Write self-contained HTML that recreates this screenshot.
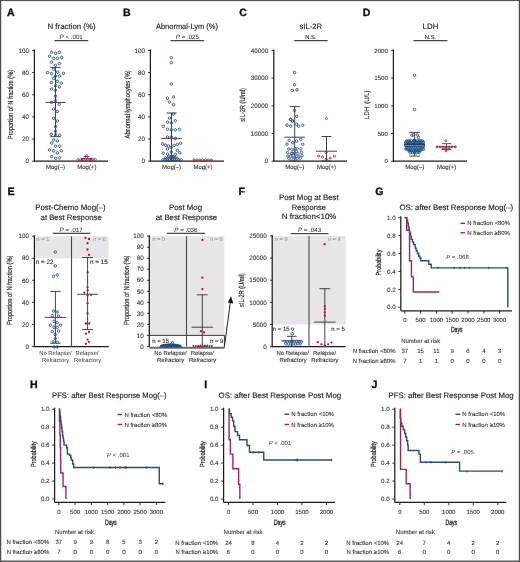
<!DOCTYPE html>
<html><head><meta charset="utf-8"><title>Figure</title>
<style>
html,body{margin:0;padding:0;background:#fff;overflow:hidden;width:520px;height:562px;}
svg{display:block;will-change:transform;}
text{font-family:"Liberation Sans",sans-serif;text-rendering:geometricPrecision;}
</style></head>
<body>
<svg width="520" height="562" viewBox="0 0 520 562">
<rect width="520" height="562" fill="#fff"/>
<rect x="0.00" y="0.00" width="520.00" height="1.10" fill="#555" />
<rect x="0.00" y="0.00" width="1.20" height="562.00" fill="#4a4a4a" />
<rect x="518.80" y="0.00" width="1.20" height="562.00" fill="#4a4a4a" />
<rect x="0.00" y="560.50" width="520.00" height="1.50" fill="#5a5a5a" />
<text x="7.00" y="15.70" font-size="10.6" text-anchor="start" fill="#111" font-weight="bold" font-style="normal" stroke="#111" stroke-width="0.35">A</text>
<text x="71.55" y="28.90" font-size="7.8" text-anchor="middle" fill="#222" font-weight="normal" font-style="normal" stroke="#222" stroke-width="0.14" textLength="48.1" lengthAdjust="spacingAndGlyphs">N fraction (%)</text>
<text x="71.20" y="38.60" font-size="6.2" text-anchor="middle" fill="#222"><tspan font-style="italic">P</tspan> &lt; .001</text>
<line x1="54.30" y1="40.60" x2="88.20" y2="40.60" stroke="#474747" stroke-width="1.3" />
<text transform="translate(10.60,104.50) rotate(-90)" x="0" y="2.59" font-size="7.4" text-anchor="middle" fill="#2a2a2a" stroke="#2a2a2a" stroke-width="0.18" textLength="69.3" lengthAdjust="spacingAndGlyphs">Proportion of N fraction (%)</text>
<line x1="34.40" y1="49.40" x2="34.40" y2="161.80" stroke="#1c1c1c" stroke-width="1.25" />
<line x1="32.10" y1="161.20" x2="34.40" y2="161.20" stroke="#1c1c1c" stroke-width="0.9" />
<text x="28.90" y="163.40" font-size="6.3" text-anchor="end" fill="#333" font-weight="normal" font-style="normal"  stroke="#333" stroke-width="0.1">0</text>
<line x1="32.10" y1="139.04" x2="34.40" y2="139.04" stroke="#1c1c1c" stroke-width="0.9" />
<text x="28.90" y="141.24" font-size="6.3" text-anchor="end" fill="#333" font-weight="normal" font-style="normal"  stroke="#333" stroke-width="0.1">20</text>
<line x1="32.10" y1="116.88" x2="34.40" y2="116.88" stroke="#1c1c1c" stroke-width="0.9" />
<text x="28.90" y="119.08" font-size="6.3" text-anchor="end" fill="#333" font-weight="normal" font-style="normal"  stroke="#333" stroke-width="0.1">40</text>
<line x1="32.10" y1="94.72" x2="34.40" y2="94.72" stroke="#1c1c1c" stroke-width="0.9" />
<text x="28.90" y="96.92" font-size="6.3" text-anchor="end" fill="#333" font-weight="normal" font-style="normal"  stroke="#333" stroke-width="0.1">60</text>
<line x1="32.10" y1="72.56" x2="34.40" y2="72.56" stroke="#1c1c1c" stroke-width="0.9" />
<text x="28.90" y="74.76" font-size="6.3" text-anchor="end" fill="#333" font-weight="normal" font-style="normal"  stroke="#333" stroke-width="0.1">80</text>
<line x1="32.10" y1="50.40" x2="34.40" y2="50.40" stroke="#1c1c1c" stroke-width="0.9" />
<text x="28.90" y="52.60" font-size="6.3" text-anchor="end" fill="#333" font-weight="normal" font-style="normal"  stroke="#333" stroke-width="0.1">100</text>
<line x1="34.40" y1="161.20" x2="108.00" y2="161.20" stroke="#1c1c1c" stroke-width="1.25" />
<text x="55.50" y="169.30" font-size="6" text-anchor="middle" fill="#333" font-weight="normal" font-style="normal"  stroke="#333" stroke-width="0.1">Mog(–)</text>
<text x="86.80" y="169.30" font-size="6" text-anchor="middle" fill="#333" font-weight="normal" font-style="normal"  stroke="#333" stroke-width="0.1">Mog(+)</text>
<line x1="55.50" y1="67.40" x2="55.50" y2="136.70" stroke="#3a3a3a" stroke-width="0.95" />
<line x1="50.30" y1="67.40" x2="60.70" y2="67.40" stroke="#3a3a3a" stroke-width="0.95" />
<line x1="50.30" y1="136.70" x2="60.70" y2="136.70" stroke="#3a3a3a" stroke-width="0.95" />
<line x1="45.25" y1="102.40" x2="65.75" y2="102.40" stroke="#3a3a3a" stroke-width="0.95" />
<line x1="81.00" y1="158.60" x2="92.00" y2="158.60" stroke="#333" stroke-width="0.9" />
<line x1="83.50" y1="156.50" x2="89.50" y2="156.50" stroke="#333" stroke-width="0.8" />
<text x="123.00" y="15.70" font-size="10.6" text-anchor="start" fill="#111" font-weight="bold" font-style="normal" stroke="#111" stroke-width="0.35">B</text>
<text x="186.95" y="28.90" font-size="7.8" text-anchor="middle" fill="#222" font-weight="normal" font-style="normal" stroke="#222" stroke-width="0.14" textLength="61.9" lengthAdjust="spacingAndGlyphs">Abnormal-Lym (%)</text>
<text x="187.40" y="38.60" font-size="6.2" text-anchor="middle" fill="#222"><tspan font-style="italic">P</tspan> = .025</text>
<line x1="170.50" y1="40.60" x2="204.20" y2="40.60" stroke="#474747" stroke-width="1.3" />
<text transform="translate(127.30,104.40) rotate(-90)" x="0" y="2.59" font-size="7.4" text-anchor="middle" fill="#2a2a2a" stroke="#2a2a2a" stroke-width="0.18" textLength="68" lengthAdjust="spacingAndGlyphs">Abnormal lymphocytes (%)</text>
<line x1="150.40" y1="49.40" x2="150.40" y2="161.80" stroke="#1c1c1c" stroke-width="1.25" />
<line x1="148.10" y1="161.20" x2="150.40" y2="161.20" stroke="#1c1c1c" stroke-width="0.9" />
<text x="144.90" y="163.40" font-size="6.3" text-anchor="end" fill="#333" font-weight="normal" font-style="normal"  stroke="#333" stroke-width="0.1">0</text>
<line x1="148.10" y1="139.04" x2="150.40" y2="139.04" stroke="#1c1c1c" stroke-width="0.9" />
<text x="144.90" y="141.24" font-size="6.3" text-anchor="end" fill="#333" font-weight="normal" font-style="normal"  stroke="#333" stroke-width="0.1">20</text>
<line x1="148.10" y1="116.88" x2="150.40" y2="116.88" stroke="#1c1c1c" stroke-width="0.9" />
<text x="144.90" y="119.08" font-size="6.3" text-anchor="end" fill="#333" font-weight="normal" font-style="normal"  stroke="#333" stroke-width="0.1">40</text>
<line x1="148.10" y1="94.72" x2="150.40" y2="94.72" stroke="#1c1c1c" stroke-width="0.9" />
<text x="144.90" y="96.92" font-size="6.3" text-anchor="end" fill="#333" font-weight="normal" font-style="normal"  stroke="#333" stroke-width="0.1">60</text>
<line x1="148.10" y1="72.56" x2="150.40" y2="72.56" stroke="#1c1c1c" stroke-width="0.9" />
<text x="144.90" y="74.76" font-size="6.3" text-anchor="end" fill="#333" font-weight="normal" font-style="normal"  stroke="#333" stroke-width="0.1">80</text>
<line x1="148.10" y1="50.40" x2="150.40" y2="50.40" stroke="#1c1c1c" stroke-width="0.9" />
<text x="144.90" y="52.60" font-size="6.3" text-anchor="end" fill="#333" font-weight="normal" font-style="normal"  stroke="#333" stroke-width="0.1">100</text>
<line x1="150.40" y1="161.20" x2="224.00" y2="161.20" stroke="#1c1c1c" stroke-width="1.25" />
<text x="171.60" y="169.30" font-size="6" text-anchor="middle" fill="#333" font-weight="normal" font-style="normal"  stroke="#333" stroke-width="0.1">Mog(–)</text>
<text x="203.00" y="169.30" font-size="6" text-anchor="middle" fill="#333" font-weight="normal" font-style="normal"  stroke="#333" stroke-width="0.1">Mog(+)</text>
<line x1="171.50" y1="113.00" x2="171.50" y2="161.00" stroke="#3a3a3a" stroke-width="0.95" />
<line x1="166.40" y1="113.00" x2="176.60" y2="113.00" stroke="#3a3a3a" stroke-width="0.95" />
<line x1="166.40" y1="161.00" x2="176.60" y2="161.00" stroke="#3a3a3a" stroke-width="0.95" />
<line x1="161.25" y1="138.40" x2="181.75" y2="138.40" stroke="#3a3a3a" stroke-width="0.95" />
<text x="239.20" y="15.70" font-size="10.6" text-anchor="start" fill="#111" font-weight="bold" font-style="normal" stroke="#111" stroke-width="0.35">C</text>
<text x="310.75" y="28.80" font-size="7.8" text-anchor="middle" fill="#222" font-weight="normal" font-style="normal" stroke="#222" stroke-width="0.14" textLength="22.5" lengthAdjust="spacingAndGlyphs">sIL-2R</text>
<text x="310.80" y="38.60" font-size="5.8" text-anchor="middle" fill="#222" font-weight="normal" font-style="normal"  stroke="#222" stroke-width="0.1">N.S.</text>
<line x1="294.20" y1="40.60" x2="327.70" y2="40.60" stroke="#474747" stroke-width="1.3" />
<text transform="translate(242.70,104.90) rotate(-90)" x="0" y="2.59" font-size="7.4" text-anchor="middle" fill="#2a2a2a" stroke="#2a2a2a" stroke-width="0.18" textLength="33.7" lengthAdjust="spacingAndGlyphs">sIL-2R (U/ml)</text>
<line x1="273.80" y1="49.40" x2="273.80" y2="161.80" stroke="#1c1c1c" stroke-width="1.25" />
<line x1="271.50" y1="161.20" x2="273.80" y2="161.20" stroke="#1c1c1c" stroke-width="0.9" />
<text x="268.30" y="163.40" font-size="6.3" text-anchor="end" fill="#333" font-weight="normal" font-style="normal"  stroke="#333" stroke-width="0.1">0</text>
<line x1="271.50" y1="133.50" x2="273.80" y2="133.50" stroke="#1c1c1c" stroke-width="0.9" />
<text x="268.30" y="135.70" font-size="6.3" text-anchor="end" fill="#333" font-weight="normal" font-style="normal"  stroke="#333" stroke-width="0.1">10000</text>
<line x1="271.50" y1="105.80" x2="273.80" y2="105.80" stroke="#1c1c1c" stroke-width="0.9" />
<text x="268.30" y="108.00" font-size="6.3" text-anchor="end" fill="#333" font-weight="normal" font-style="normal"  stroke="#333" stroke-width="0.1">20000</text>
<line x1="271.50" y1="78.10" x2="273.80" y2="78.10" stroke="#1c1c1c" stroke-width="0.9" />
<text x="268.30" y="80.30" font-size="6.3" text-anchor="end" fill="#333" font-weight="normal" font-style="normal"  stroke="#333" stroke-width="0.1">30000</text>
<line x1="271.50" y1="50.40" x2="273.80" y2="50.40" stroke="#1c1c1c" stroke-width="0.9" />
<text x="268.30" y="52.60" font-size="6.3" text-anchor="end" fill="#333" font-weight="normal" font-style="normal"  stroke="#333" stroke-width="0.1">40000</text>
<line x1="273.80" y1="161.20" x2="347.00" y2="161.20" stroke="#1c1c1c" stroke-width="1.25" />
<text x="294.80" y="169.30" font-size="6" text-anchor="middle" fill="#333" font-weight="normal" font-style="normal"  stroke="#333" stroke-width="0.1">Mog(–)</text>
<text x="326.50" y="169.30" font-size="6" text-anchor="middle" fill="#333" font-weight="normal" font-style="normal"  stroke="#333" stroke-width="0.1">Mog(+)</text>
<line x1="294.70" y1="106.60" x2="294.70" y2="161.00" stroke="#3a3a3a" stroke-width="0.95" />
<line x1="289.60" y1="106.60" x2="299.80" y2="106.60" stroke="#3a3a3a" stroke-width="0.95" />
<line x1="289.60" y1="161.00" x2="299.80" y2="161.00" stroke="#3a3a3a" stroke-width="0.95" />
<line x1="284.45" y1="137.20" x2="304.95" y2="137.20" stroke="#3a3a3a" stroke-width="0.95" />
<line x1="326.50" y1="136.50" x2="326.50" y2="161.00" stroke="#3a3a3a" stroke-width="0.95" />
<line x1="321.50" y1="136.50" x2="331.50" y2="136.50" stroke="#3a3a3a" stroke-width="0.95" />
<line x1="321.50" y1="161.00" x2="331.50" y2="161.00" stroke="#3a3a3a" stroke-width="0.95" />
<line x1="316.00" y1="151.20" x2="337.00" y2="151.20" stroke="#3a3a3a" stroke-width="0.95" />
<text x="362.70" y="15.70" font-size="10.6" text-anchor="start" fill="#111" font-weight="bold" font-style="normal" stroke="#111" stroke-width="0.35">D</text>
<text x="430.50" y="28.80" font-size="7.8" text-anchor="middle" fill="#222" font-weight="normal" font-style="normal" stroke="#222" stroke-width="0.14" textLength="15.8" lengthAdjust="spacingAndGlyphs">LDH</text>
<text x="430.30" y="38.60" font-size="5.8" text-anchor="middle" fill="#222" font-weight="normal" font-style="normal"  stroke="#222" stroke-width="0.1">N.S.</text>
<line x1="413.50" y1="40.60" x2="447.40" y2="40.60" stroke="#474747" stroke-width="1.3" />
<text transform="translate(366.50,104.70) rotate(-90)" x="0" y="2.31" font-size="6.6" text-anchor="middle" fill="#2a2a2a" stroke="#2a2a2a" stroke-width="0.18" textLength="28.4" lengthAdjust="spacingAndGlyphs">LDH&#160;&#160;(U/L)</text>
<line x1="393.40" y1="49.40" x2="393.40" y2="161.80" stroke="#1c1c1c" stroke-width="1.25" />
<line x1="391.10" y1="161.20" x2="393.40" y2="161.20" stroke="#1c1c1c" stroke-width="0.9" />
<text x="387.90" y="163.40" font-size="6.1" text-anchor="end" fill="#333" font-weight="normal" font-style="normal"  stroke="#333" stroke-width="0.1">0</text>
<line x1="391.10" y1="133.50" x2="393.40" y2="133.50" stroke="#1c1c1c" stroke-width="0.9" />
<text x="387.90" y="135.70" font-size="6.1" text-anchor="end" fill="#333" font-weight="normal" font-style="normal"  stroke="#333" stroke-width="0.1">500</text>
<line x1="391.10" y1="105.80" x2="393.40" y2="105.80" stroke="#1c1c1c" stroke-width="0.9" />
<text x="387.90" y="108.00" font-size="6.1" text-anchor="end" fill="#333" font-weight="normal" font-style="normal"  stroke="#333" stroke-width="0.1">1000</text>
<line x1="391.10" y1="78.10" x2="393.40" y2="78.10" stroke="#1c1c1c" stroke-width="0.9" />
<text x="387.90" y="80.30" font-size="6.1" text-anchor="end" fill="#333" font-weight="normal" font-style="normal"  stroke="#333" stroke-width="0.1">1500</text>
<line x1="391.10" y1="50.40" x2="393.40" y2="50.40" stroke="#1c1c1c" stroke-width="0.9" />
<text x="387.90" y="52.60" font-size="6.1" text-anchor="end" fill="#333" font-weight="normal" font-style="normal"  stroke="#333" stroke-width="0.1">2000</text>
<line x1="393.40" y1="161.20" x2="467.00" y2="161.20" stroke="#1c1c1c" stroke-width="1.25" />
<text x="414.80" y="169.30" font-size="6" text-anchor="middle" fill="#333" font-weight="normal" font-style="normal"  stroke="#333" stroke-width="0.1">Mog(–)</text>
<text x="446.60" y="169.30" font-size="6" text-anchor="middle" fill="#333" font-weight="normal" font-style="normal"  stroke="#333" stroke-width="0.1">Mog(+)</text>
<line x1="414.60" y1="132.40" x2="414.60" y2="156.10" stroke="#3a3a3a" stroke-width="0.95" />
<line x1="409.30" y1="132.40" x2="419.90" y2="132.40" stroke="#3a3a3a" stroke-width="0.95" />
<line x1="409.30" y1="156.10" x2="419.90" y2="156.10" stroke="#3a3a3a" stroke-width="0.95" />
<line x1="404.10" y1="144.50" x2="425.10" y2="144.50" stroke="#3a3a3a" stroke-width="0.95" />
<line x1="446.50" y1="143.70" x2="446.50" y2="149.40" stroke="#444" stroke-width="0.9" />
<line x1="441.75" y1="143.70" x2="451.25" y2="143.70" stroke="#444" stroke-width="0.9" />
<line x1="441.75" y1="149.40" x2="451.25" y2="149.40" stroke="#444" stroke-width="0.9" />
<line x1="436.50" y1="146.70" x2="456.50" y2="146.70" stroke="#444" stroke-width="0.9" />
<text x="7.60" y="195.00" font-size="10.6" text-anchor="start" fill="#111" font-weight="bold" font-style="normal" stroke="#111" stroke-width="0.35">E</text>
<text x="70.40" y="209.60" font-size="7.8" text-anchor="middle" fill="#222" font-weight="normal" font-style="normal" stroke="#222" stroke-width="0.14" textLength="70.4" lengthAdjust="spacingAndGlyphs">Post-Chemo Mog(–)</text>
<text x="71.15" y="219.60" font-size="7.8" text-anchor="middle" fill="#222" font-weight="normal" font-style="normal" stroke="#222" stroke-width="0.14" textLength="61.1" lengthAdjust="spacingAndGlyphs">at Best Response</text>
<text x="71.20" y="231.80" font-size="6.2" text-anchor="middle" fill="#222"><tspan font-style="italic">P</tspan> = .017</text>
<line x1="52.80" y1="233.40" x2="90.30" y2="233.40" stroke="#474747" stroke-width="1.3" />
<rect x="35.00" y="236.20" width="73.50" height="22.06" fill="#e7e5e8" />
<text transform="translate(9.90,290.30) rotate(-90)" x="0" y="2.59" font-size="7.4" text-anchor="middle" fill="#2a2a2a" stroke="#2a2a2a" stroke-width="0.18" textLength="69.4" lengthAdjust="spacingAndGlyphs">Proportion of N fraction (%)</text>
<line x1="34.40" y1="235.20" x2="34.40" y2="347.10" stroke="#1c1c1c" stroke-width="1.25" />
<line x1="32.10" y1="346.50" x2="34.40" y2="346.50" stroke="#1c1c1c" stroke-width="0.9" />
<text x="28.90" y="348.70" font-size="6.3" text-anchor="end" fill="#333" font-weight="normal" font-style="normal"  stroke="#333" stroke-width="0.1">0</text>
<line x1="32.10" y1="324.44" x2="34.40" y2="324.44" stroke="#1c1c1c" stroke-width="0.9" />
<text x="28.90" y="326.64" font-size="6.3" text-anchor="end" fill="#333" font-weight="normal" font-style="normal"  stroke="#333" stroke-width="0.1">20</text>
<line x1="32.10" y1="302.38" x2="34.40" y2="302.38" stroke="#1c1c1c" stroke-width="0.9" />
<text x="28.90" y="304.58" font-size="6.3" text-anchor="end" fill="#333" font-weight="normal" font-style="normal"  stroke="#333" stroke-width="0.1">40</text>
<line x1="32.10" y1="280.32" x2="34.40" y2="280.32" stroke="#1c1c1c" stroke-width="0.9" />
<text x="28.90" y="282.52" font-size="6.3" text-anchor="end" fill="#333" font-weight="normal" font-style="normal"  stroke="#333" stroke-width="0.1">60</text>
<line x1="32.10" y1="258.26" x2="34.40" y2="258.26" stroke="#1c1c1c" stroke-width="0.9" />
<text x="28.90" y="260.46" font-size="6.3" text-anchor="end" fill="#333" font-weight="normal" font-style="normal"  stroke="#333" stroke-width="0.1">80</text>
<line x1="32.10" y1="236.20" x2="34.40" y2="236.20" stroke="#1c1c1c" stroke-width="0.9" />
<text x="28.90" y="238.40" font-size="6.3" text-anchor="end" fill="#333" font-weight="normal" font-style="normal"  stroke="#333" stroke-width="0.1">100</text>
<line x1="34.40" y1="346.50" x2="108.70" y2="346.50" stroke="#1c1c1c" stroke-width="1.25" />
<line x1="71.50" y1="236.20" x2="71.50" y2="346.50" stroke="#4a4a4a" stroke-width="1.1" />
<text x="36.30" y="241.00" font-size="5.8" text-anchor="start" fill="#9c9c9c" font-weight="normal" font-style="normal"  stroke="#9c9c9c" stroke-width="0.1">n = 1</text>
<text x="106.00" y="241.00" font-size="5.8" text-anchor="end" fill="#9c9c9c" font-weight="normal" font-style="normal"  stroke="#9c9c9c" stroke-width="0.1">n = 6</text>
<text x="35.80" y="264.00" font-size="6.3" text-anchor="start" fill="#222" font-weight="normal" font-style="normal"  stroke="#222" stroke-width="0.1">n = 22</text>
<text x="107.80" y="264.00" font-size="6.3" text-anchor="end" fill="#222" font-weight="normal" font-style="normal"  stroke="#222" stroke-width="0.1">n = 15</text>
<text x="55.4" y="354.6" font-size="5.9" text-anchor="middle" fill="#333">No Relapse/</text>
<text x="55.6" y="361.6" font-size="5.9" text-anchor="middle" fill="#333">Refractory</text>
<text x="87" y="354.6" font-size="5.9" text-anchor="middle" fill="#333">Relapse/</text>
<text x="87.6" y="361.6" font-size="5.9" text-anchor="middle" fill="#333">Refractory</text>
<line x1="55.40" y1="291.40" x2="55.40" y2="343.20" stroke="#3a3a3a" stroke-width="0.95" />
<line x1="50.25" y1="291.40" x2="60.55" y2="291.40" stroke="#3a3a3a" stroke-width="0.95" />
<line x1="50.25" y1="343.20" x2="60.55" y2="343.20" stroke="#3a3a3a" stroke-width="0.95" />
<line x1="44.65" y1="317.40" x2="66.15" y2="317.40" stroke="#3a3a3a" stroke-width="0.95" />
<line x1="87.60" y1="257.50" x2="87.60" y2="329.50" stroke="#3a3a3a" stroke-width="0.95" />
<line x1="82.20" y1="257.50" x2="93.00" y2="257.50" stroke="#3a3a3a" stroke-width="0.95" />
<line x1="82.20" y1="329.50" x2="93.00" y2="329.50" stroke="#3a3a3a" stroke-width="0.95" />
<line x1="77.10" y1="294.30" x2="98.10" y2="294.30" stroke="#3a3a3a" stroke-width="0.95" />
<text x="185.55" y="209.60" font-size="7.8" text-anchor="middle" fill="#222" font-weight="normal" font-style="normal" stroke="#222" stroke-width="0.14" textLength="32.9" lengthAdjust="spacingAndGlyphs">Post Mog</text>
<text x="186.45" y="219.60" font-size="7.8" text-anchor="middle" fill="#222" font-weight="normal" font-style="normal" stroke="#222" stroke-width="0.14" textLength="61.3" lengthAdjust="spacingAndGlyphs">at Best Response</text>
<text x="185.90" y="231.80" font-size="6.2" text-anchor="middle" fill="#222"><tspan font-style="italic">P</tspan> = .036</text>
<line x1="166.80" y1="233.40" x2="205.00" y2="233.40" stroke="#474747" stroke-width="1.3" />
<rect x="150.00" y="236.20" width="74.40" height="99.18" fill="#e7e5e8" />
<text transform="translate(126.10,290.30) rotate(-90)" x="0" y="2.59" font-size="7.4" text-anchor="middle" fill="#2a2a2a" stroke="#2a2a2a" stroke-width="0.18" textLength="69.4" lengthAdjust="spacingAndGlyphs">Proportion of N fraction (%)</text>
<line x1="149.30" y1="235.20" x2="149.30" y2="347.00" stroke="#1c1c1c" stroke-width="1.25" />
<line x1="147.00" y1="346.40" x2="149.30" y2="346.40" stroke="#1c1c1c" stroke-width="0.9" />
<text x="143.80" y="348.60" font-size="6.3" text-anchor="end" fill="#333" font-weight="normal" font-style="normal"  stroke="#333" stroke-width="0.1">0</text>
<line x1="147.00" y1="335.38" x2="149.30" y2="335.38" stroke="#1c1c1c" stroke-width="0.9" />
<text x="143.80" y="337.58" font-size="6.3" text-anchor="end" fill="#333" font-weight="normal" font-style="normal"  stroke="#333" stroke-width="0.1">10</text>
<line x1="147.00" y1="324.36" x2="149.30" y2="324.36" stroke="#1c1c1c" stroke-width="0.9" />
<text x="143.80" y="326.56" font-size="6.3" text-anchor="end" fill="#333" font-weight="normal" font-style="normal"  stroke="#333" stroke-width="0.1">20</text>
<line x1="147.00" y1="313.34" x2="149.30" y2="313.34" stroke="#1c1c1c" stroke-width="0.9" />
<text x="143.80" y="315.54" font-size="6.3" text-anchor="end" fill="#333" font-weight="normal" font-style="normal"  stroke="#333" stroke-width="0.1">30</text>
<line x1="147.00" y1="302.32" x2="149.30" y2="302.32" stroke="#1c1c1c" stroke-width="0.9" />
<text x="143.80" y="304.52" font-size="6.3" text-anchor="end" fill="#333" font-weight="normal" font-style="normal"  stroke="#333" stroke-width="0.1">40</text>
<line x1="147.00" y1="291.30" x2="149.30" y2="291.30" stroke="#1c1c1c" stroke-width="0.9" />
<text x="143.80" y="293.50" font-size="6.3" text-anchor="end" fill="#333" font-weight="normal" font-style="normal"  stroke="#333" stroke-width="0.1">50</text>
<line x1="147.00" y1="280.28" x2="149.30" y2="280.28" stroke="#1c1c1c" stroke-width="0.9" />
<text x="143.80" y="282.48" font-size="6.3" text-anchor="end" fill="#333" font-weight="normal" font-style="normal"  stroke="#333" stroke-width="0.1">60</text>
<line x1="147.00" y1="269.26" x2="149.30" y2="269.26" stroke="#1c1c1c" stroke-width="0.9" />
<text x="143.80" y="271.46" font-size="6.3" text-anchor="end" fill="#333" font-weight="normal" font-style="normal"  stroke="#333" stroke-width="0.1">70</text>
<line x1="147.00" y1="258.24" x2="149.30" y2="258.24" stroke="#1c1c1c" stroke-width="0.9" />
<text x="143.80" y="260.44" font-size="6.3" text-anchor="end" fill="#333" font-weight="normal" font-style="normal"  stroke="#333" stroke-width="0.1">80</text>
<line x1="147.00" y1="247.22" x2="149.30" y2="247.22" stroke="#1c1c1c" stroke-width="0.9" />
<text x="143.80" y="249.42" font-size="6.3" text-anchor="end" fill="#333" font-weight="normal" font-style="normal"  stroke="#333" stroke-width="0.1">90</text>
<line x1="147.00" y1="236.20" x2="149.30" y2="236.20" stroke="#1c1c1c" stroke-width="0.9" />
<text x="143.80" y="238.40" font-size="6.3" text-anchor="end" fill="#333" font-weight="normal" font-style="normal"  stroke="#333" stroke-width="0.1">100</text>
<line x1="186.50" y1="236.20" x2="186.50" y2="346.40" stroke="#4a4a4a" stroke-width="1.1" />
<line x1="149.30" y1="335.38" x2="224.40" y2="335.38" stroke="#3a3a3a" stroke-width="1.0" />
<line x1="224.40" y1="335.38" x2="224.40" y2="346.40" stroke="#3a3a3a" stroke-width="1.0" />
<line x1="149.30" y1="347.70" x2="224.80" y2="347.70" stroke="#6a6a6a" stroke-width="1.9" />
<text x="152.20" y="241.00" font-size="5.8" text-anchor="start" fill="#9c9c9c" font-weight="normal" font-style="normal"  stroke="#9c9c9c" stroke-width="0.1">n = 0</text>
<text x="222.80" y="241.00" font-size="5.8" text-anchor="end" fill="#9c9c9c" font-weight="normal" font-style="normal"  stroke="#9c9c9c" stroke-width="0.1">n = 6</text>
<text x="152.20" y="342.60" font-size="6" text-anchor="start" fill="#222" font-weight="normal" font-style="normal"  stroke="#222" stroke-width="0.1">n = 15</text>
<text x="223.40" y="342.60" font-size="6" text-anchor="end" fill="#222" font-weight="normal" font-style="normal"  stroke="#222" stroke-width="0.1">n = 9</text>
<text x="170.50" y="354.60" font-size="5.9" text-anchor="middle" fill="#333" font-weight="normal" font-style="normal"  stroke="#333" stroke-width="0.1">No Relapse/</text>
<text x="170.70" y="361.60" font-size="5.9" text-anchor="middle" fill="#333" font-weight="normal" font-style="normal"  stroke="#333" stroke-width="0.1">Refractory</text>
<text x="202.30" y="354.60" font-size="5.9" text-anchor="middle" fill="#333" font-weight="normal" font-style="normal"  stroke="#333" stroke-width="0.1">Relapse/</text>
<text x="202.50" y="361.60" font-size="5.9" text-anchor="middle" fill="#333" font-weight="normal" font-style="normal"  stroke="#333" stroke-width="0.1">Refractory</text>
<line x1="202.30" y1="294.80" x2="202.30" y2="346.40" stroke="#3a3a3a" stroke-width="0.95" />
<line x1="196.90" y1="294.80" x2="207.70" y2="294.80" stroke="#3a3a3a" stroke-width="0.95" />
<line x1="196.90" y1="346.40" x2="207.70" y2="346.40" stroke="#3a3a3a" stroke-width="0.95" />
<line x1="191.50" y1="327.20" x2="213.10" y2="327.20" stroke="#3a3a3a" stroke-width="0.95" />
<line x1="224.40" y1="346.70" x2="230.30" y2="302.50" stroke="#222" stroke-width="1.0" />
<path d="M231,296.2 L233.3,303.4 L227.9,302.6 Z" fill="#111"/>
<text x="238.50" y="195.00" font-size="10.6" text-anchor="start" fill="#111" font-weight="bold" font-style="normal" stroke="#111" stroke-width="0.35">F</text>
<text x="308.85" y="200.00" font-size="7.8" text-anchor="middle" fill="#222" font-weight="normal" font-style="normal" stroke="#222" stroke-width="0.14" textLength="59.7" lengthAdjust="spacingAndGlyphs">Post Mog at Best</text>
<text x="308.85" y="209.70" font-size="7.8" text-anchor="middle" fill="#222" font-weight="normal" font-style="normal" stroke="#222" stroke-width="0.14" textLength="34.1" lengthAdjust="spacingAndGlyphs">Response</text>
<text x="309.10" y="219.40" font-size="7.8" text-anchor="middle" fill="#222" font-weight="normal" font-style="normal" stroke="#222" stroke-width="0.14" textLength="54.6" lengthAdjust="spacingAndGlyphs">N fraction&lt;10%</text>
<text x="309.50" y="231.80" font-size="6.2" text-anchor="middle" fill="#222"><tspan font-style="italic">P</tspan> = .043</text>
<line x1="290.80" y1="233.60" x2="328.50" y2="233.60" stroke="#474747" stroke-width="1.3" />
<rect x="272.60" y="235.90" width="73.20" height="88.64" fill="#e7e5e8" />
<text transform="translate(241.70,290.20) rotate(-90)" x="0" y="2.59" font-size="7.4" text-anchor="middle" fill="#2a2a2a" stroke="#2a2a2a" stroke-width="0.18" textLength="33.5" lengthAdjust="spacingAndGlyphs">sIL-2R (U/ml)</text>
<line x1="272.20" y1="234.90" x2="272.20" y2="347.30" stroke="#1c1c1c" stroke-width="1.25" />
<line x1="269.90" y1="346.70" x2="272.20" y2="346.70" stroke="#1c1c1c" stroke-width="0.9" />
<text x="266.70" y="348.90" font-size="6.3" text-anchor="end" fill="#333" font-weight="normal" font-style="normal"  stroke="#333" stroke-width="0.1">0</text>
<line x1="269.90" y1="324.54" x2="272.20" y2="324.54" stroke="#1c1c1c" stroke-width="0.9" />
<text x="266.70" y="326.74" font-size="6.3" text-anchor="end" fill="#333" font-weight="normal" font-style="normal"  stroke="#333" stroke-width="0.1">5000</text>
<line x1="269.90" y1="302.38" x2="272.20" y2="302.38" stroke="#1c1c1c" stroke-width="0.9" />
<text x="266.70" y="304.58" font-size="6.3" text-anchor="end" fill="#333" font-weight="normal" font-style="normal"  stroke="#333" stroke-width="0.1">10000</text>
<line x1="269.90" y1="280.22" x2="272.20" y2="280.22" stroke="#1c1c1c" stroke-width="0.9" />
<text x="266.70" y="282.42" font-size="6.3" text-anchor="end" fill="#333" font-weight="normal" font-style="normal"  stroke="#333" stroke-width="0.1">15000</text>
<line x1="269.90" y1="258.06" x2="272.20" y2="258.06" stroke="#1c1c1c" stroke-width="0.9" />
<text x="266.70" y="260.26" font-size="6.3" text-anchor="end" fill="#333" font-weight="normal" font-style="normal"  stroke="#333" stroke-width="0.1">20000</text>
<line x1="269.90" y1="235.90" x2="272.20" y2="235.90" stroke="#1c1c1c" stroke-width="0.9" />
<text x="266.70" y="238.10" font-size="6.3" text-anchor="end" fill="#333" font-weight="normal" font-style="normal"  stroke="#333" stroke-width="0.1">25000</text>
<line x1="272.20" y1="346.70" x2="345.80" y2="346.70" stroke="#1c1c1c" stroke-width="1.25" />
<line x1="309.00" y1="235.90" x2="309.00" y2="346.70" stroke="#4a4a4a" stroke-width="1.1" />
<text x="274.60" y="240.80" font-size="5.8" text-anchor="start" fill="#9c9c9c" font-weight="normal" font-style="normal"  stroke="#9c9c9c" stroke-width="0.1">n = 0</text>
<text x="340.80" y="240.80" font-size="5.8" text-anchor="end" fill="#9c9c9c" font-weight="normal" font-style="normal"  stroke="#9c9c9c" stroke-width="0.1">n = 4</text>
<text x="272.80" y="330.60" font-size="6" text-anchor="start" fill="#222" font-weight="normal" font-style="normal"  stroke="#222" stroke-width="0.1">n = 15</text>
<text x="344.80" y="330.60" font-size="6" text-anchor="end" fill="#222" font-weight="normal" font-style="normal"  stroke="#222" stroke-width="0.1">n = 5</text>
<text x="292.80" y="354.60" font-size="5.9" text-anchor="middle" fill="#333" font-weight="normal" font-style="normal"  stroke="#333" stroke-width="0.1">No Relapse/</text>
<text x="293.00" y="361.60" font-size="5.9" text-anchor="middle" fill="#333" font-weight="normal" font-style="normal"  stroke="#333" stroke-width="0.1">Refractory</text>
<text x="324.60" y="354.60" font-size="5.9" text-anchor="middle" fill="#333" font-weight="normal" font-style="normal"  stroke="#333" stroke-width="0.1">Relapse/</text>
<text x="324.80" y="361.60" font-size="5.9" text-anchor="middle" fill="#333" font-weight="normal" font-style="normal"  stroke="#333" stroke-width="0.1">Refractory</text>
<line x1="291.80" y1="336.30" x2="291.80" y2="346.30" stroke="#333" stroke-width="0.95" />
<line x1="287.05" y1="336.30" x2="296.55" y2="336.30" stroke="#333" stroke-width="0.95" />
<line x1="287.05" y1="346.30" x2="296.55" y2="346.30" stroke="#333" stroke-width="0.95" />
<line x1="281.30" y1="340.80" x2="302.30" y2="340.80" stroke="#333" stroke-width="0.95" />
<line x1="324.80" y1="288.70" x2="324.80" y2="346.60" stroke="#3a3a3a" stroke-width="0.95" />
<line x1="319.40" y1="288.70" x2="330.20" y2="288.70" stroke="#3a3a3a" stroke-width="0.95" />
<line x1="319.40" y1="346.60" x2="330.20" y2="346.60" stroke="#3a3a3a" stroke-width="0.95" />
<line x1="314.05" y1="322.10" x2="335.55" y2="322.10" stroke="#3a3a3a" stroke-width="0.95" />
<text x="375.30" y="194.70" font-size="10.6" text-anchor="start" fill="#111" font-weight="bold" font-style="normal" stroke="#111" stroke-width="0.35">G</text>
<line x1="400.80" y1="216.20" x2="400.80" y2="310.80" stroke="#1c1c1c" stroke-width="1.25" />
<line x1="398.30" y1="307.30" x2="400.80" y2="307.30" stroke="#1c1c1c" stroke-width="0.9" />
<text x="395.70" y="309.45" font-size="6.2" text-anchor="end" fill="#333" font-weight="normal" font-style="normal"  stroke="#333" stroke-width="0.1">0.0</text>
<line x1="398.30" y1="289.38" x2="400.80" y2="289.38" stroke="#1c1c1c" stroke-width="0.9" />
<text x="395.70" y="291.53" font-size="6.2" text-anchor="end" fill="#333" font-weight="normal" font-style="normal"  stroke="#333" stroke-width="0.1">0.2</text>
<line x1="398.30" y1="271.46" x2="400.80" y2="271.46" stroke="#1c1c1c" stroke-width="0.9" />
<text x="395.70" y="273.61" font-size="6.2" text-anchor="end" fill="#333" font-weight="normal" font-style="normal"  stroke="#333" stroke-width="0.1">0.4</text>
<line x1="398.30" y1="253.54" x2="400.80" y2="253.54" stroke="#1c1c1c" stroke-width="0.9" />
<text x="395.70" y="255.69" font-size="6.2" text-anchor="end" fill="#333" font-weight="normal" font-style="normal"  stroke="#333" stroke-width="0.1">0.6</text>
<line x1="398.30" y1="235.62" x2="400.80" y2="235.62" stroke="#1c1c1c" stroke-width="0.9" />
<text x="395.70" y="237.77" font-size="6.2" text-anchor="end" fill="#333" font-weight="normal" font-style="normal"  stroke="#333" stroke-width="0.1">0.8</text>
<line x1="398.30" y1="217.70" x2="400.80" y2="217.70" stroke="#1c1c1c" stroke-width="0.9" />
<text x="395.70" y="219.85" font-size="6.2" text-anchor="end" fill="#333" font-weight="normal" font-style="normal"  stroke="#333" stroke-width="0.1">1.0</text>
<line x1="400.80" y1="310.80" x2="512.00" y2="310.80" stroke="#1c1c1c" stroke-width="1.25" />
<line x1="404.80" y1="310.80" x2="404.80" y2="313.60" stroke="#1c1c1c" stroke-width="0.9" />
<text x="404.80" y="322.00" font-size="6" text-anchor="middle" fill="#333" font-weight="normal" font-style="normal"  stroke="#333" stroke-width="0.1">0</text>
<line x1="420.60" y1="310.80" x2="420.60" y2="313.60" stroke="#1c1c1c" stroke-width="0.9" />
<text x="420.60" y="322.00" font-size="6" text-anchor="middle" fill="#333" font-weight="normal" font-style="normal"  stroke="#333" stroke-width="0.1">500</text>
<line x1="436.40" y1="310.80" x2="436.40" y2="313.60" stroke="#1c1c1c" stroke-width="0.9" />
<text x="436.40" y="322.00" font-size="6" text-anchor="middle" fill="#333" font-weight="normal" font-style="normal"  stroke="#333" stroke-width="0.1">1000</text>
<line x1="452.20" y1="310.80" x2="452.20" y2="313.60" stroke="#1c1c1c" stroke-width="0.9" />
<text x="452.20" y="322.00" font-size="6" text-anchor="middle" fill="#333" font-weight="normal" font-style="normal"  stroke="#333" stroke-width="0.1">1500</text>
<line x1="468.00" y1="310.80" x2="468.00" y2="313.60" stroke="#1c1c1c" stroke-width="0.9" />
<text x="468.00" y="322.00" font-size="6" text-anchor="middle" fill="#333" font-weight="normal" font-style="normal"  stroke="#333" stroke-width="0.1">2000</text>
<line x1="483.80" y1="310.80" x2="483.80" y2="313.60" stroke="#1c1c1c" stroke-width="0.9" />
<text x="483.80" y="322.00" font-size="6" text-anchor="middle" fill="#333" font-weight="normal" font-style="normal"  stroke="#333" stroke-width="0.1">2500</text>
<line x1="499.60" y1="310.80" x2="499.60" y2="313.60" stroke="#1c1c1c" stroke-width="0.9" />
<text x="499.60" y="322.00" font-size="6" text-anchor="middle" fill="#333" font-weight="normal" font-style="normal"  stroke="#333" stroke-width="0.1">3000</text>
<text transform="translate(378.90,262.50) rotate(-90)" x="0" y="2.59" font-size="7.4" text-anchor="middle" fill="#2a2a2a" stroke="#2a2a2a" stroke-width="0.18" textLength="25.8" lengthAdjust="spacingAndGlyphs">Probability</text>
<text x="399.40" y="209.60" font-size="7.8" text-anchor="start" fill="#222" font-weight="normal" font-style="normal" stroke="#222" stroke-width="0.14" textLength="113.8" lengthAdjust="spacingAndGlyphs">OS: after Best Response Mog(–)</text>
<path d="M404.80,217.70 H406.70 V220.39 H407.64 V223.08 H408.28 V226.66 H408.91 V230.24 H409.54 V232.93 H410.33 V235.62 H411.12 V239.20 H412.38 V241.89 H413.65 V244.58 H415.23 V248.16 H416.18 V250.85 H417.44 V253.54 H418.70 V256.23 H419.97 V258.02 H420.79 V260.71 H428.82 V264.29 H431.19 V267.88 H507.82 V307.30" fill="none" stroke="#2b4c74" stroke-width="1.4" stroke-linejoin="miter"/>
<line x1="437.98" y1="266.58" x2="437.98" y2="269.18" stroke="#2b4c74" stroke-width="0.9" />
<line x1="454.10" y1="266.58" x2="454.10" y2="269.18" stroke="#2b4c74" stroke-width="0.9" />
<line x1="460.10" y1="266.58" x2="460.10" y2="269.18" stroke="#2b4c74" stroke-width="0.9" />
<line x1="464.84" y1="266.58" x2="464.84" y2="269.18" stroke="#2b4c74" stroke-width="0.9" />
<line x1="469.26" y1="266.58" x2="469.26" y2="269.18" stroke="#2b4c74" stroke-width="0.9" />
<line x1="488.86" y1="266.58" x2="488.86" y2="269.18" stroke="#2b4c74" stroke-width="0.9" />
<line x1="505.92" y1="266.58" x2="505.92" y2="269.18" stroke="#2b4c74" stroke-width="0.9" />
<path d="M404.80,217.70 H406.70 V230.24 H409.54 V260.71 H411.44 V276.84 H413.33 V292.07 H439.24 V292.07" fill="none" stroke="#9e2850" stroke-width="1.4" stroke-linejoin="miter"/>
<line x1="460.40" y1="223.40" x2="465.00" y2="223.40" stroke="#2b4c74" stroke-width="1.4" />
<line x1="460.40" y1="232.80" x2="465.00" y2="232.80" stroke="#9e2850" stroke-width="1.4" />
<text x="467.20" y="225.40" font-size="6" text-anchor="start" fill="#333" font-weight="normal" font-style="normal"  stroke="#333" stroke-width="0.1">N fraction &lt;80%</text>
<text x="467.20" y="234.80" font-size="6" text-anchor="start" fill="#333" font-weight="normal" font-style="normal"  stroke="#333" stroke-width="0.1">N fraction ≥80%</text>
<text x="446.2" y="259" font-size="6" fill="#333"><tspan font-style="italic">P</tspan> = .068</text>
<text x="456.7" y="332.1" font-size="7.8" text-anchor="middle" fill="#222" textLength="11.6" lengthAdjust="spacingAndGlyphs" stroke="#222" stroke-width="0.3">Days</text>
<text x="401.20" y="342.90" font-size="6" text-anchor="start" fill="#333" font-weight="normal" font-style="normal"  stroke="#333" stroke-width="0.1">Number at risk</text>
<text x="395.50" y="352.90" font-size="6" text-anchor="end" fill="#333" font-weight="normal" font-style="normal"  stroke="#333" stroke-width="0.1">N fraction &lt;80%</text>
<text x="395.50" y="362.50" font-size="6" text-anchor="end" fill="#333" font-weight="normal" font-style="normal"  stroke="#333" stroke-width="0.1">N fraction ≥80%</text>
<text x="404.80" y="352.90" font-size="6" text-anchor="middle" fill="#333" font-weight="normal" font-style="normal"  stroke="#333" stroke-width="0.1">37</text>
<text x="420.60" y="352.90" font-size="6" text-anchor="middle" fill="#333" font-weight="normal" font-style="normal"  stroke="#333" stroke-width="0.1">15</text>
<text x="436.40" y="352.90" font-size="6" text-anchor="middle" fill="#333" font-weight="normal" font-style="normal"  stroke="#333" stroke-width="0.1">11</text>
<text x="452.20" y="352.90" font-size="6" text-anchor="middle" fill="#333" font-weight="normal" font-style="normal"  stroke="#333" stroke-width="0.1">9</text>
<text x="468.00" y="352.90" font-size="6" text-anchor="middle" fill="#333" font-weight="normal" font-style="normal"  stroke="#333" stroke-width="0.1">6</text>
<text x="483.80" y="352.90" font-size="6" text-anchor="middle" fill="#333" font-weight="normal" font-style="normal"  stroke="#333" stroke-width="0.1">4</text>
<text x="499.60" y="352.90" font-size="6" text-anchor="middle" fill="#333" font-weight="normal" font-style="normal"  stroke="#333" stroke-width="0.1">3</text>
<text x="404.80" y="362.50" font-size="6" text-anchor="middle" fill="#333" font-weight="normal" font-style="normal"  stroke="#333" stroke-width="0.1">7</text>
<text x="420.60" y="362.50" font-size="6" text-anchor="middle" fill="#333" font-weight="normal" font-style="normal"  stroke="#333" stroke-width="0.1">1</text>
<text x="436.40" y="362.50" font-size="6" text-anchor="middle" fill="#333" font-weight="normal" font-style="normal"  stroke="#333" stroke-width="0.1">1</text>
<text x="452.20" y="362.50" font-size="6" text-anchor="middle" fill="#333" font-weight="normal" font-style="normal"  stroke="#333" stroke-width="0.1">0</text>
<text x="468.00" y="362.50" font-size="6" text-anchor="middle" fill="#333" font-weight="normal" font-style="normal"  stroke="#333" stroke-width="0.1">0</text>
<text x="483.80" y="362.50" font-size="6" text-anchor="middle" fill="#333" font-weight="normal" font-style="normal"  stroke="#333" stroke-width="0.1">0</text>
<text x="499.60" y="362.50" font-size="6" text-anchor="middle" fill="#333" font-weight="normal" font-style="normal"  stroke="#333" stroke-width="0.1">0</text>
<text x="30.00" y="387.60" font-size="10.6" text-anchor="start" fill="#111" font-weight="bold" font-style="normal" stroke="#111" stroke-width="0.35">H</text>
<line x1="54.60" y1="407.70" x2="54.60" y2="502.40" stroke="#1c1c1c" stroke-width="1.25" />
<line x1="52.10" y1="499.00" x2="54.60" y2="499.00" stroke="#1c1c1c" stroke-width="0.9" />
<text x="49.50" y="501.15" font-size="6.2" text-anchor="end" fill="#333" font-weight="normal" font-style="normal"  stroke="#333" stroke-width="0.1">0.0</text>
<line x1="52.10" y1="481.04" x2="54.60" y2="481.04" stroke="#1c1c1c" stroke-width="0.9" />
<text x="49.50" y="483.19" font-size="6.2" text-anchor="end" fill="#333" font-weight="normal" font-style="normal"  stroke="#333" stroke-width="0.1">0.2</text>
<line x1="52.10" y1="463.08" x2="54.60" y2="463.08" stroke="#1c1c1c" stroke-width="0.9" />
<text x="49.50" y="465.23" font-size="6.2" text-anchor="end" fill="#333" font-weight="normal" font-style="normal"  stroke="#333" stroke-width="0.1">0.4</text>
<line x1="52.10" y1="445.12" x2="54.60" y2="445.12" stroke="#1c1c1c" stroke-width="0.9" />
<text x="49.50" y="447.27" font-size="6.2" text-anchor="end" fill="#333" font-weight="normal" font-style="normal"  stroke="#333" stroke-width="0.1">0.6</text>
<line x1="52.10" y1="427.16" x2="54.60" y2="427.16" stroke="#1c1c1c" stroke-width="0.9" />
<text x="49.50" y="429.31" font-size="6.2" text-anchor="end" fill="#333" font-weight="normal" font-style="normal"  stroke="#333" stroke-width="0.1">0.8</text>
<line x1="52.10" y1="409.20" x2="54.60" y2="409.20" stroke="#1c1c1c" stroke-width="0.9" />
<text x="49.50" y="411.35" font-size="6.2" text-anchor="end" fill="#333" font-weight="normal" font-style="normal"  stroke="#333" stroke-width="0.1">1.0</text>
<line x1="54.60" y1="502.40" x2="165.40" y2="502.40" stroke="#1c1c1c" stroke-width="1.25" />
<line x1="58.80" y1="502.40" x2="58.80" y2="505.20" stroke="#1c1c1c" stroke-width="0.9" />
<text x="58.80" y="513.60" font-size="6" text-anchor="middle" fill="#333" font-weight="normal" font-style="normal"  stroke="#333" stroke-width="0.1">0</text>
<line x1="75.06" y1="502.40" x2="75.06" y2="505.20" stroke="#1c1c1c" stroke-width="0.9" />
<text x="75.06" y="513.60" font-size="6" text-anchor="middle" fill="#333" font-weight="normal" font-style="normal"  stroke="#333" stroke-width="0.1">500</text>
<line x1="91.32" y1="502.40" x2="91.32" y2="505.20" stroke="#1c1c1c" stroke-width="0.9" />
<text x="91.32" y="513.60" font-size="6" text-anchor="middle" fill="#333" font-weight="normal" font-style="normal"  stroke="#333" stroke-width="0.1">1000</text>
<line x1="107.58" y1="502.40" x2="107.58" y2="505.20" stroke="#1c1c1c" stroke-width="0.9" />
<text x="107.58" y="513.60" font-size="6" text-anchor="middle" fill="#333" font-weight="normal" font-style="normal"  stroke="#333" stroke-width="0.1">1500</text>
<line x1="123.84" y1="502.40" x2="123.84" y2="505.20" stroke="#1c1c1c" stroke-width="0.9" />
<text x="123.84" y="513.60" font-size="6" text-anchor="middle" fill="#333" font-weight="normal" font-style="normal"  stroke="#333" stroke-width="0.1">2000</text>
<line x1="140.10" y1="502.40" x2="140.10" y2="505.20" stroke="#1c1c1c" stroke-width="0.9" />
<text x="140.10" y="513.60" font-size="6" text-anchor="middle" fill="#333" font-weight="normal" font-style="normal"  stroke="#333" stroke-width="0.1">2500</text>
<line x1="156.36" y1="502.40" x2="156.36" y2="505.20" stroke="#1c1c1c" stroke-width="0.9" />
<text x="156.36" y="513.60" font-size="6" text-anchor="middle" fill="#333" font-weight="normal" font-style="normal"  stroke="#333" stroke-width="0.1">3000</text>
<text transform="translate(33.90,454.10) rotate(-90)" x="0" y="2.59" font-size="7.4" text-anchor="middle" fill="#2a2a2a" stroke="#2a2a2a" stroke-width="0.18" textLength="25.8" lengthAdjust="spacingAndGlyphs">Probability</text>
<text x="52.10" y="398.10" font-size="7.8" text-anchor="start" fill="#222" font-weight="normal" font-style="normal" stroke="#222" stroke-width="0.14" textLength="114.4" lengthAdjust="spacingAndGlyphs">PFS: after Best Response Mog(–)</text>
<path d="M58.80,409.20 H59.61 V411.89 H60.10 V416.38 H60.59 V420.87 H61.08 V424.47 H61.53 V428.06 H62.05 V431.65 H62.54 V435.24 H63.03 V437.94 H63.52 V441.08 H64.07 V445.12 H66.60 V447.81 H67.39 V454.10 H69.60 V455.45 H70.80 V457.69 H71.39 V459.94 H72.69 V463.98 H73.69 V467.57 H159.25 V483.73 H162.99 V483.73" fill="none" stroke="#2b4c74" stroke-width="1.4" stroke-linejoin="miter"/>
<line x1="93.76" y1="466.27" x2="93.76" y2="468.87" stroke="#2b4c74" stroke-width="0.9" />
<line x1="110.02" y1="466.27" x2="110.02" y2="468.87" stroke="#2b4c74" stroke-width="0.9" />
<line x1="115.51" y1="466.27" x2="115.51" y2="468.87" stroke="#2b4c74" stroke-width="0.9" />
<line x1="120.00" y1="466.27" x2="120.00" y2="468.87" stroke="#2b4c74" stroke-width="0.9" />
<line x1="125.01" y1="466.27" x2="125.01" y2="468.87" stroke="#2b4c74" stroke-width="0.9" />
<line x1="126.25" y1="466.27" x2="126.25" y2="468.87" stroke="#2b4c74" stroke-width="0.9" />
<line x1="146.25" y1="466.27" x2="146.25" y2="468.87" stroke="#2b4c74" stroke-width="0.9" />
<line x1="162.99" y1="482.43" x2="162.99" y2="485.03" stroke="#2b4c74" stroke-width="0.9" />
<path d="M58.80,409.20 H59.45 V421.77 H59.94 V435.24 H60.26 V447.81 H60.59 V460.39 H60.75 V472.96 H63.03 V486.43 H65.95 V499.00" fill="none" stroke="#9e2850" stroke-width="1.4" stroke-linejoin="miter"/>
<line x1="117.60" y1="414.50" x2="122.20" y2="414.50" stroke="#2b4c74" stroke-width="1.4" />
<line x1="117.60" y1="424.50" x2="122.20" y2="424.50" stroke="#9e2850" stroke-width="1.4" />
<text x="124.40" y="416.50" font-size="6" text-anchor="start" fill="#333" font-weight="normal" font-style="normal"  stroke="#333" stroke-width="0.1">N fraction &lt;80%</text>
<text x="124.40" y="426.50" font-size="6" text-anchor="start" fill="#333" font-weight="normal" font-style="normal"  stroke="#333" stroke-width="0.1">N fraction ≥80%</text>
<text x="107" y="457" font-size="6" fill="#333"><tspan font-style="italic">P</tspan> &lt; .001</text>
<text x="110.8" y="524.6" font-size="7.8" text-anchor="middle" fill="#222" textLength="11.6" lengthAdjust="spacingAndGlyphs" stroke="#222" stroke-width="0.3">Days</text>
<text x="55.00" y="534.00" font-size="6" text-anchor="start" fill="#333" font-weight="normal" font-style="normal"  stroke="#333" stroke-width="0.1">Number at risk</text>
<text x="49.30" y="544.00" font-size="6" text-anchor="end" fill="#333" font-weight="normal" font-style="normal"  stroke="#333" stroke-width="0.1">N fraction &lt;80%</text>
<text x="49.30" y="553.80" font-size="6" text-anchor="end" fill="#333" font-weight="normal" font-style="normal"  stroke="#333" stroke-width="0.1">N fraction ≥80%</text>
<text x="58.80" y="544.00" font-size="6" text-anchor="middle" fill="#333" font-weight="normal" font-style="normal"  stroke="#333" stroke-width="0.1">37</text>
<text x="75.06" y="544.00" font-size="6" text-anchor="middle" fill="#333" font-weight="normal" font-style="normal"  stroke="#333" stroke-width="0.1">9</text>
<text x="91.32" y="544.00" font-size="6" text-anchor="middle" fill="#333" font-weight="normal" font-style="normal"  stroke="#333" stroke-width="0.1">9</text>
<text x="107.58" y="544.00" font-size="6" text-anchor="middle" fill="#333" font-weight="normal" font-style="normal"  stroke="#333" stroke-width="0.1">8</text>
<text x="123.84" y="544.00" font-size="6" text-anchor="middle" fill="#333" font-weight="normal" font-style="normal"  stroke="#333" stroke-width="0.1">5</text>
<text x="140.10" y="544.00" font-size="6" text-anchor="middle" fill="#333" font-weight="normal" font-style="normal"  stroke="#333" stroke-width="0.1">3</text>
<text x="156.36" y="544.00" font-size="6" text-anchor="middle" fill="#333" font-weight="normal" font-style="normal"  stroke="#333" stroke-width="0.1">2</text>
<text x="58.80" y="553.80" font-size="6" text-anchor="middle" fill="#333" font-weight="normal" font-style="normal"  stroke="#333" stroke-width="0.1">7</text>
<text x="75.06" y="553.80" font-size="6" text-anchor="middle" fill="#333" font-weight="normal" font-style="normal"  stroke="#333" stroke-width="0.1">0</text>
<text x="91.32" y="553.80" font-size="6" text-anchor="middle" fill="#333" font-weight="normal" font-style="normal"  stroke="#333" stroke-width="0.1">0</text>
<text x="107.58" y="553.80" font-size="6" text-anchor="middle" fill="#333" font-weight="normal" font-style="normal"  stroke="#333" stroke-width="0.1">0</text>
<text x="123.84" y="553.80" font-size="6" text-anchor="middle" fill="#333" font-weight="normal" font-style="normal"  stroke="#333" stroke-width="0.1">0</text>
<text x="140.10" y="553.80" font-size="6" text-anchor="middle" fill="#333" font-weight="normal" font-style="normal"  stroke="#333" stroke-width="0.1">0</text>
<text x="156.36" y="553.80" font-size="6" text-anchor="middle" fill="#333" font-weight="normal" font-style="normal"  stroke="#333" stroke-width="0.1">0</text>
<text x="204.20" y="387.60" font-size="10.6" text-anchor="start" fill="#111" font-weight="bold" font-style="normal" stroke="#111" stroke-width="0.35">I</text>
<line x1="223.60" y1="407.70" x2="223.60" y2="502.40" stroke="#1c1c1c" stroke-width="1.25" />
<line x1="221.10" y1="499.00" x2="223.60" y2="499.00" stroke="#1c1c1c" stroke-width="0.9" />
<text x="218.50" y="501.15" font-size="6.2" text-anchor="end" fill="#333" font-weight="normal" font-style="normal"  stroke="#333" stroke-width="0.1">0.0</text>
<line x1="221.10" y1="481.04" x2="223.60" y2="481.04" stroke="#1c1c1c" stroke-width="0.9" />
<text x="218.50" y="483.19" font-size="6.2" text-anchor="end" fill="#333" font-weight="normal" font-style="normal"  stroke="#333" stroke-width="0.1">0.2</text>
<line x1="221.10" y1="463.08" x2="223.60" y2="463.08" stroke="#1c1c1c" stroke-width="0.9" />
<text x="218.50" y="465.23" font-size="6.2" text-anchor="end" fill="#333" font-weight="normal" font-style="normal"  stroke="#333" stroke-width="0.1">0.4</text>
<line x1="221.10" y1="445.12" x2="223.60" y2="445.12" stroke="#1c1c1c" stroke-width="0.9" />
<text x="218.50" y="447.27" font-size="6.2" text-anchor="end" fill="#333" font-weight="normal" font-style="normal"  stroke="#333" stroke-width="0.1">0.6</text>
<line x1="221.10" y1="427.16" x2="223.60" y2="427.16" stroke="#1c1c1c" stroke-width="0.9" />
<text x="218.50" y="429.31" font-size="6.2" text-anchor="end" fill="#333" font-weight="normal" font-style="normal"  stroke="#333" stroke-width="0.1">0.8</text>
<line x1="221.10" y1="409.20" x2="223.60" y2="409.20" stroke="#1c1c1c" stroke-width="0.9" />
<text x="218.50" y="411.35" font-size="6.2" text-anchor="end" fill="#333" font-weight="normal" font-style="normal"  stroke="#333" stroke-width="0.1">1.0</text>
<line x1="223.60" y1="502.40" x2="335.00" y2="502.40" stroke="#1c1c1c" stroke-width="1.25" />
<line x1="228.60" y1="502.40" x2="228.60" y2="505.20" stroke="#1c1c1c" stroke-width="0.9" />
<text x="228.60" y="513.60" font-size="6" text-anchor="middle" fill="#333" font-weight="normal" font-style="normal"  stroke="#333" stroke-width="0.1">0</text>
<line x1="253.05" y1="502.40" x2="253.05" y2="505.20" stroke="#1c1c1c" stroke-width="0.9" />
<text x="253.05" y="513.60" font-size="6" text-anchor="middle" fill="#333" font-weight="normal" font-style="normal"  stroke="#333" stroke-width="0.1">500</text>
<line x1="277.50" y1="502.40" x2="277.50" y2="505.20" stroke="#1c1c1c" stroke-width="0.9" />
<text x="277.50" y="513.60" font-size="6" text-anchor="middle" fill="#333" font-weight="normal" font-style="normal"  stroke="#333" stroke-width="0.1">1000</text>
<line x1="301.95" y1="502.40" x2="301.95" y2="505.20" stroke="#1c1c1c" stroke-width="0.9" />
<text x="301.95" y="513.60" font-size="6" text-anchor="middle" fill="#333" font-weight="normal" font-style="normal"  stroke="#333" stroke-width="0.1">1500</text>
<line x1="326.40" y1="502.40" x2="326.40" y2="505.20" stroke="#1c1c1c" stroke-width="0.9" />
<text x="326.40" y="513.60" font-size="6" text-anchor="middle" fill="#333" font-weight="normal" font-style="normal"  stroke="#333" stroke-width="0.1">2000</text>
<text transform="translate(202.50,454.10) rotate(-90)" x="0" y="2.59" font-size="7.4" text-anchor="middle" fill="#2a2a2a" stroke="#2a2a2a" stroke-width="0.18" textLength="25.8" lengthAdjust="spacingAndGlyphs">Probability</text>
<text x="218.60" y="398.10" font-size="7.8" text-anchor="start" fill="#222" font-weight="normal" font-style="normal" stroke="#222" stroke-width="0.14" textLength="122.6" lengthAdjust="spacingAndGlyphs">OS: after Best Response Post Mog</text>
<path d="M228.60,409.20 H229.48 V413.69 H231.24 V417.28 H232.51 V420.87 H233.73 V426.26 H235.01 V431.65 H237.50 V435.24 H239.50 V439.73 H246.99 V445.57 H249.48 V452.30 H263.76 V460.03 H331.78 V460.03" fill="none" stroke="#2b4c74" stroke-width="1.4" stroke-linejoin="miter"/>
<line x1="253.73" y1="451.00" x2="253.73" y2="453.60" stroke="#2b4c74" stroke-width="0.9" />
<line x1="258.77" y1="451.00" x2="258.77" y2="453.60" stroke="#2b4c74" stroke-width="0.9" />
<line x1="296.23" y1="458.73" x2="296.23" y2="461.33" stroke="#2b4c74" stroke-width="0.9" />
<line x1="297.50" y1="458.73" x2="297.50" y2="461.33" stroke="#2b4c74" stroke-width="0.9" />
<line x1="331.78" y1="458.73" x2="331.78" y2="461.33" stroke="#2b4c74" stroke-width="0.9" />
<path d="M228.60,409.20 H229.09 V439.73 H230.36 V454.10 H232.90 V468.74 H238.62 V484.18 H239.85 V499.00" fill="none" stroke="#9e2850" stroke-width="1.4" stroke-linejoin="miter"/>
<line x1="284.50" y1="414.30" x2="289.10" y2="414.30" stroke="#2b4c74" stroke-width="1.4" />
<line x1="284.50" y1="424.50" x2="289.10" y2="424.50" stroke="#9e2850" stroke-width="1.4" />
<text x="291.30" y="416.30" font-size="6" text-anchor="start" fill="#333" font-weight="normal" font-style="normal"  stroke="#333" stroke-width="0.1">N fraction &lt;10%</text>
<text x="291.30" y="426.50" font-size="6" text-anchor="start" fill="#333" font-weight="normal" font-style="normal"  stroke="#333" stroke-width="0.1">N fraction ≥10%</text>
<text x="268.7" y="444.6" font-size="6" fill="#333"><tspan font-style="italic">P</tspan> &lt; .001</text>
<text x="279.7" y="524.6" font-size="7.8" text-anchor="middle" fill="#222" textLength="11.6" lengthAdjust="spacingAndGlyphs" stroke="#222" stroke-width="0.3">Days</text>
<text x="223.50" y="534.00" font-size="6" text-anchor="start" fill="#333" font-weight="normal" font-style="normal"  stroke="#333" stroke-width="0.1">Number at risk</text>
<text x="218.20" y="544.50" font-size="6" text-anchor="end" fill="#333" font-weight="normal" font-style="normal"  stroke="#333" stroke-width="0.1">N fraction &lt;10%</text>
<text x="218.20" y="553.80" font-size="6" text-anchor="end" fill="#333" font-weight="normal" font-style="normal"  stroke="#333" stroke-width="0.1">N fraction ≥10%</text>
<text x="228.50" y="544.50" font-size="6" text-anchor="middle" fill="#333" font-weight="normal" font-style="normal"  stroke="#333" stroke-width="0.1">24</text>
<text x="252.95" y="544.50" font-size="6" text-anchor="middle" fill="#333" font-weight="normal" font-style="normal"  stroke="#333" stroke-width="0.1">8</text>
<text x="277.40" y="544.50" font-size="6" text-anchor="middle" fill="#333" font-weight="normal" font-style="normal"  stroke="#333" stroke-width="0.1">4</text>
<text x="301.85" y="544.50" font-size="6" text-anchor="middle" fill="#333" font-weight="normal" font-style="normal"  stroke="#333" stroke-width="0.1">2</text>
<text x="326.30" y="544.50" font-size="6" text-anchor="middle" fill="#333" font-weight="normal" font-style="normal"  stroke="#333" stroke-width="0.1">2</text>
<text x="228.50" y="553.80" font-size="6" text-anchor="middle" fill="#333" font-weight="normal" font-style="normal"  stroke="#333" stroke-width="0.1">6</text>
<text x="252.95" y="553.80" font-size="6" text-anchor="middle" fill="#333" font-weight="normal" font-style="normal"  stroke="#333" stroke-width="0.1">0</text>
<text x="277.40" y="553.80" font-size="6" text-anchor="middle" fill="#333" font-weight="normal" font-style="normal"  stroke="#333" stroke-width="0.1">0</text>
<text x="301.85" y="553.80" font-size="6" text-anchor="middle" fill="#333" font-weight="normal" font-style="normal"  stroke="#333" stroke-width="0.1">0</text>
<text x="326.30" y="553.80" font-size="6" text-anchor="middle" fill="#333" font-weight="normal" font-style="normal"  stroke="#333" stroke-width="0.1">0</text>
<text x="371.50" y="387.60" font-size="10.6" text-anchor="start" fill="#111" font-weight="bold" font-style="normal" stroke="#111" stroke-width="0.35">J</text>
<line x1="394.80" y1="407.70" x2="394.80" y2="502.40" stroke="#1c1c1c" stroke-width="1.25" />
<line x1="392.30" y1="499.00" x2="394.80" y2="499.00" stroke="#1c1c1c" stroke-width="0.9" />
<text x="389.70" y="501.15" font-size="6.2" text-anchor="end" fill="#333" font-weight="normal" font-style="normal"  stroke="#333" stroke-width="0.1">0.0</text>
<line x1="392.30" y1="481.04" x2="394.80" y2="481.04" stroke="#1c1c1c" stroke-width="0.9" />
<text x="389.70" y="483.19" font-size="6.2" text-anchor="end" fill="#333" font-weight="normal" font-style="normal"  stroke="#333" stroke-width="0.1">0.2</text>
<line x1="392.30" y1="463.08" x2="394.80" y2="463.08" stroke="#1c1c1c" stroke-width="0.9" />
<text x="389.70" y="465.23" font-size="6.2" text-anchor="end" fill="#333" font-weight="normal" font-style="normal"  stroke="#333" stroke-width="0.1">0.4</text>
<line x1="392.30" y1="445.12" x2="394.80" y2="445.12" stroke="#1c1c1c" stroke-width="0.9" />
<text x="389.70" y="447.27" font-size="6.2" text-anchor="end" fill="#333" font-weight="normal" font-style="normal"  stroke="#333" stroke-width="0.1">0.6</text>
<line x1="392.30" y1="427.16" x2="394.80" y2="427.16" stroke="#1c1c1c" stroke-width="0.9" />
<text x="389.70" y="429.31" font-size="6.2" text-anchor="end" fill="#333" font-weight="normal" font-style="normal"  stroke="#333" stroke-width="0.1">0.8</text>
<line x1="392.30" y1="409.20" x2="394.80" y2="409.20" stroke="#1c1c1c" stroke-width="0.9" />
<text x="389.70" y="411.35" font-size="6.2" text-anchor="end" fill="#333" font-weight="normal" font-style="normal"  stroke="#333" stroke-width="0.1">1.0</text>
<line x1="394.80" y1="502.40" x2="506.30" y2="502.40" stroke="#1c1c1c" stroke-width="1.25" />
<line x1="399.80" y1="502.40" x2="399.80" y2="505.20" stroke="#1c1c1c" stroke-width="0.9" />
<text x="399.80" y="513.60" font-size="6" text-anchor="middle" fill="#333" font-weight="normal" font-style="normal"  stroke="#333" stroke-width="0.1">0</text>
<line x1="424.30" y1="502.40" x2="424.30" y2="505.20" stroke="#1c1c1c" stroke-width="0.9" />
<text x="424.30" y="513.60" font-size="6" text-anchor="middle" fill="#333" font-weight="normal" font-style="normal"  stroke="#333" stroke-width="0.1">500</text>
<line x1="448.80" y1="502.40" x2="448.80" y2="505.20" stroke="#1c1c1c" stroke-width="0.9" />
<text x="448.80" y="513.60" font-size="6" text-anchor="middle" fill="#333" font-weight="normal" font-style="normal"  stroke="#333" stroke-width="0.1">1000</text>
<line x1="473.30" y1="502.40" x2="473.30" y2="505.20" stroke="#1c1c1c" stroke-width="0.9" />
<text x="473.30" y="513.60" font-size="6" text-anchor="middle" fill="#333" font-weight="normal" font-style="normal"  stroke="#333" stroke-width="0.1">1500</text>
<line x1="497.80" y1="502.40" x2="497.80" y2="505.20" stroke="#1c1c1c" stroke-width="0.9" />
<text x="497.80" y="513.60" font-size="6" text-anchor="middle" fill="#333" font-weight="normal" font-style="normal"  stroke="#333" stroke-width="0.1">2000</text>
<text transform="translate(373.80,454.10) rotate(-90)" x="0" y="2.59" font-size="7.4" text-anchor="middle" fill="#2a2a2a" stroke="#2a2a2a" stroke-width="0.18" textLength="25.8" lengthAdjust="spacingAndGlyphs">Probability</text>
<text x="388.60" y="398.10" font-size="7.8" text-anchor="start" fill="#222" font-weight="normal" font-style="normal" stroke="#222" stroke-width="0.14" textLength="125.1" lengthAdjust="spacingAndGlyphs">PFS: after Best Response Post Mog</text>
<path d="M399.80,409.20 H400.29 V418.18 H400.78 V422.67 H401.76 V426.26 H403.23 V429.85 H404.70 V433.45 H405.68 V437.04 H406.66 V440.63 H407.64 V445.12 H408.13 V450.51 H418.91 V454.10 H420.38 V462.18 H459.58 V471.16 H502.21 V471.16" fill="none" stroke="#2b4c74" stroke-width="1.4" stroke-linejoin="miter"/>
<line x1="426.26" y1="460.88" x2="426.26" y2="463.48" stroke="#2b4c74" stroke-width="0.9" />
<line x1="431.16" y1="460.88" x2="431.16" y2="463.48" stroke="#2b4c74" stroke-width="0.9" />
<line x1="445.86" y1="460.88" x2="445.86" y2="463.48" stroke="#2b4c74" stroke-width="0.9" />
<line x1="466.93" y1="469.86" x2="466.93" y2="472.46" stroke="#2b4c74" stroke-width="0.9" />
<line x1="502.21" y1="469.86" x2="502.21" y2="472.46" stroke="#2b4c74" stroke-width="0.9" />
<path d="M399.80,409.20 H400.54 V469.37 H406.17 V483.73 H410.09 V499.00" fill="none" stroke="#9e2850" stroke-width="1.4" stroke-linejoin="miter"/>
<line x1="455.50" y1="414.30" x2="460.10" y2="414.30" stroke="#2b4c74" stroke-width="1.4" />
<line x1="455.50" y1="424.50" x2="460.10" y2="424.50" stroke="#9e2850" stroke-width="1.4" />
<text x="462.30" y="416.30" font-size="6" text-anchor="start" fill="#333" font-weight="normal" font-style="normal"  stroke="#333" stroke-width="0.1">N fraction &lt;10%</text>
<text x="462.30" y="426.50" font-size="6" text-anchor="start" fill="#333" font-weight="normal" font-style="normal"  stroke="#333" stroke-width="0.1">N fraction ≥10%</text>
<text x="451.3" y="454" font-size="6" fill="#333"><tspan font-style="italic">P</tspan> = .005</text>
<text x="451.3" y="524.6" font-size="7.8" text-anchor="middle" fill="#222" textLength="11.6" lengthAdjust="spacingAndGlyphs" stroke="#222" stroke-width="0.3">Days</text>
<text x="395.80" y="534.00" font-size="6" text-anchor="start" fill="#333" font-weight="normal" font-style="normal"  stroke="#333" stroke-width="0.1">Number at risk</text>
<text x="389.20" y="544.50" font-size="6" text-anchor="end" fill="#333" font-weight="normal" font-style="normal"  stroke="#333" stroke-width="0.1">N fraction &lt;10%</text>
<text x="389.20" y="553.80" font-size="6" text-anchor="end" fill="#333" font-weight="normal" font-style="normal"  stroke="#333" stroke-width="0.1">N fraction ≥10%</text>
<text x="399.70" y="544.50" font-size="6" text-anchor="middle" fill="#333" font-weight="normal" font-style="normal"  stroke="#333" stroke-width="0.1">24</text>
<text x="424.20" y="544.50" font-size="6" text-anchor="middle" fill="#333" font-weight="normal" font-style="normal"  stroke="#333" stroke-width="0.1">7</text>
<text x="448.70" y="544.50" font-size="6" text-anchor="middle" fill="#333" font-weight="normal" font-style="normal"  stroke="#333" stroke-width="0.1">4</text>
<text x="473.20" y="544.50" font-size="6" text-anchor="middle" fill="#333" font-weight="normal" font-style="normal"  stroke="#333" stroke-width="0.1">2</text>
<text x="497.70" y="544.50" font-size="6" text-anchor="middle" fill="#333" font-weight="normal" font-style="normal"  stroke="#333" stroke-width="0.1">2</text>
<text x="399.70" y="553.80" font-size="6" text-anchor="middle" fill="#333" font-weight="normal" font-style="normal"  stroke="#333" stroke-width="0.1">6</text>
<text x="424.20" y="553.80" font-size="6" text-anchor="middle" fill="#333" font-weight="normal" font-style="normal"  stroke="#333" stroke-width="0.1">0</text>
<text x="448.70" y="553.80" font-size="6" text-anchor="middle" fill="#333" font-weight="normal" font-style="normal"  stroke="#333" stroke-width="0.1">0</text>
<text x="473.20" y="553.80" font-size="6" text-anchor="middle" fill="#333" font-weight="normal" font-style="normal"  stroke="#333" stroke-width="0.1">0</text>
<text x="497.70" y="553.80" font-size="6" text-anchor="middle" fill="#333" font-weight="normal" font-style="normal"  stroke="#333" stroke-width="0.1">0</text>
<circle cx="51.50" cy="52.30" r="1.25" fill="none" stroke="#2e5079" stroke-width="0.9"/>
<circle cx="55.50" cy="53.30" r="1.25" fill="none" stroke="#2e5079" stroke-width="0.9"/>
<circle cx="59.40" cy="52.30" r="1.25" fill="none" stroke="#2e5079" stroke-width="0.9"/>
<circle cx="49.60" cy="56.20" r="1.25" fill="none" stroke="#2e5079" stroke-width="0.9"/>
<circle cx="53.60" cy="58.30" r="1.25" fill="none" stroke="#2e5079" stroke-width="0.9"/>
<circle cx="57.40" cy="58.30" r="1.25" fill="none" stroke="#2e5079" stroke-width="0.9"/>
<circle cx="61.60" cy="57.50" r="1.25" fill="none" stroke="#2e5079" stroke-width="0.9"/>
<circle cx="51.50" cy="62.10" r="1.25" fill="none" stroke="#2e5079" stroke-width="0.9"/>
<circle cx="59.40" cy="63.50" r="1.25" fill="none" stroke="#2e5079" stroke-width="0.9"/>
<circle cx="55.50" cy="65.30" r="1.25" fill="none" stroke="#2e5079" stroke-width="0.9"/>
<circle cx="53.60" cy="69.30" r="1.25" fill="none" stroke="#2e5079" stroke-width="0.9"/>
<circle cx="47.50" cy="72.50" r="1.25" fill="none" stroke="#2e5079" stroke-width="0.9"/>
<circle cx="51.50" cy="73.60" r="1.25" fill="none" stroke="#2e5079" stroke-width="0.9"/>
<circle cx="57.40" cy="72.20" r="1.25" fill="none" stroke="#2e5079" stroke-width="0.9"/>
<circle cx="63.50" cy="73.30" r="1.25" fill="none" stroke="#2e5079" stroke-width="0.9"/>
<circle cx="55.50" cy="76.00" r="1.25" fill="none" stroke="#2e5079" stroke-width="0.9"/>
<circle cx="59.40" cy="76.00" r="1.25" fill="none" stroke="#2e5079" stroke-width="0.9"/>
<circle cx="53.60" cy="78.60" r="1.25" fill="none" stroke="#2e5079" stroke-width="0.9"/>
<circle cx="51.50" cy="82.60" r="1.25" fill="none" stroke="#2e5079" stroke-width="0.9"/>
<circle cx="57.40" cy="81.30" r="1.25" fill="none" stroke="#2e5079" stroke-width="0.9"/>
<circle cx="61.30" cy="83.10" r="1.25" fill="none" stroke="#2e5079" stroke-width="0.9"/>
<circle cx="55.50" cy="85.60" r="1.25" fill="none" stroke="#2e5079" stroke-width="0.9"/>
<circle cx="59.40" cy="86.80" r="1.25" fill="none" stroke="#2e5079" stroke-width="0.9"/>
<circle cx="51.50" cy="89.10" r="1.25" fill="none" stroke="#2e5079" stroke-width="0.9"/>
<circle cx="55.50" cy="90.40" r="1.25" fill="none" stroke="#2e5079" stroke-width="0.9"/>
<circle cx="55.50" cy="96.20" r="1.25" fill="none" stroke="#2e5079" stroke-width="0.9"/>
<circle cx="55.50" cy="100.50" r="1.25" fill="none" stroke="#2e5079" stroke-width="0.9"/>
<circle cx="51.50" cy="102.40" r="1.25" fill="none" stroke="#2e5079" stroke-width="0.9"/>
<circle cx="59.20" cy="104.20" r="1.25" fill="none" stroke="#2e5079" stroke-width="0.9"/>
<circle cx="53.60" cy="109.00" r="1.25" fill="none" stroke="#2e5079" stroke-width="0.9"/>
<circle cx="57.30" cy="111.60" r="1.25" fill="none" stroke="#2e5079" stroke-width="0.9"/>
<circle cx="53.60" cy="118.30" r="1.25" fill="none" stroke="#2e5079" stroke-width="0.9"/>
<circle cx="57.30" cy="121.10" r="1.25" fill="none" stroke="#2e5079" stroke-width="0.9"/>
<circle cx="55.60" cy="126.60" r="1.25" fill="none" stroke="#2e5079" stroke-width="0.9"/>
<circle cx="55.60" cy="131.20" r="1.25" fill="none" stroke="#2e5079" stroke-width="0.9"/>
<circle cx="51.30" cy="134.40" r="1.25" fill="none" stroke="#2e5079" stroke-width="0.9"/>
<circle cx="55.60" cy="134.70" r="1.25" fill="none" stroke="#2e5079" stroke-width="0.9"/>
<circle cx="59.60" cy="135.20" r="1.25" fill="none" stroke="#2e5079" stroke-width="0.9"/>
<circle cx="53.60" cy="139.90" r="1.25" fill="none" stroke="#2e5079" stroke-width="0.9"/>
<circle cx="57.30" cy="141.00" r="1.25" fill="none" stroke="#2e5079" stroke-width="0.9"/>
<circle cx="51.60" cy="143.10" r="1.25" fill="none" stroke="#2e5079" stroke-width="0.9"/>
<circle cx="55.60" cy="146.20" r="1.25" fill="none" stroke="#2e5079" stroke-width="0.9"/>
<circle cx="59.60" cy="146.20" r="1.25" fill="none" stroke="#2e5079" stroke-width="0.9"/>
<circle cx="49.50" cy="150.00" r="1.25" fill="none" stroke="#2e5079" stroke-width="0.9"/>
<circle cx="53.60" cy="150.80" r="1.25" fill="none" stroke="#2e5079" stroke-width="0.9"/>
<circle cx="57.30" cy="152.90" r="1.25" fill="none" stroke="#2e5079" stroke-width="0.9"/>
<circle cx="61.40" cy="150.80" r="1.25" fill="none" stroke="#2e5079" stroke-width="0.9"/>
<circle cx="51.60" cy="156.60" r="1.25" fill="none" stroke="#2e5079" stroke-width="0.9"/>
<circle cx="55.60" cy="158.30" r="1.25" fill="none" stroke="#2e5079" stroke-width="0.9"/>
<circle cx="59.60" cy="157.80" r="1.25" fill="none" stroke="#2e5079" stroke-width="0.9"/>
<circle cx="78.20" cy="159.40" r="1.0" fill="none" stroke="#a8173f" stroke-width="0.75"/>
<circle cx="80.60" cy="159.80" r="1.0" fill="none" stroke="#a8173f" stroke-width="0.75"/>
<circle cx="83.00" cy="159.30" r="1.0" fill="none" stroke="#a8173f" stroke-width="0.75"/>
<circle cx="85.50" cy="159.80" r="1.0" fill="none" stroke="#a8173f" stroke-width="0.75"/>
<circle cx="88.00" cy="159.30" r="1.0" fill="none" stroke="#a8173f" stroke-width="0.75"/>
<circle cx="90.50" cy="159.80" r="1.0" fill="none" stroke="#a8173f" stroke-width="0.75"/>
<circle cx="93.00" cy="159.30" r="1.0" fill="none" stroke="#a8173f" stroke-width="0.75"/>
<circle cx="95.40" cy="159.40" r="1.0" fill="none" stroke="#a8173f" stroke-width="0.75"/>
<circle cx="86.50" cy="157.20" r="1.0" fill="none" stroke="#a8173f" stroke-width="0.75"/>
<circle cx="86.50" cy="155.50" r="1.0" fill="none" stroke="#a8173f" stroke-width="0.75"/>
<circle cx="82.00" cy="160.40" r="1.0" fill="none" stroke="#a8173f" stroke-width="0.75"/>
<circle cx="91.00" cy="160.40" r="1.0" fill="none" stroke="#a8173f" stroke-width="0.75"/>
<circle cx="171.30" cy="57.70" r="1.25" fill="none" stroke="#2e5079" stroke-width="0.9"/>
<circle cx="171.30" cy="62.60" r="1.25" fill="none" stroke="#2e5079" stroke-width="0.9"/>
<circle cx="171.30" cy="83.90" r="1.25" fill="none" stroke="#2e5079" stroke-width="0.9"/>
<circle cx="167.50" cy="98.20" r="1.25" fill="none" stroke="#2e5079" stroke-width="0.9"/>
<circle cx="173.50" cy="97.00" r="1.25" fill="none" stroke="#2e5079" stroke-width="0.9"/>
<circle cx="169.40" cy="102.10" r="1.25" fill="none" stroke="#2e5079" stroke-width="0.9"/>
<circle cx="173.50" cy="104.60" r="1.25" fill="none" stroke="#2e5079" stroke-width="0.9"/>
<circle cx="173.70" cy="114.10" r="1.25" fill="none" stroke="#2e5079" stroke-width="0.9"/>
<circle cx="169.40" cy="118.00" r="1.25" fill="none" stroke="#2e5079" stroke-width="0.9"/>
<circle cx="175.30" cy="120.80" r="1.25" fill="none" stroke="#2e5079" stroke-width="0.9"/>
<circle cx="167.50" cy="122.10" r="1.25" fill="none" stroke="#2e5079" stroke-width="0.9"/>
<circle cx="171.30" cy="122.90" r="1.25" fill="none" stroke="#2e5079" stroke-width="0.9"/>
<circle cx="163.30" cy="126.30" r="1.25" fill="none" stroke="#2e5079" stroke-width="0.9"/>
<circle cx="167.50" cy="129.30" r="1.25" fill="none" stroke="#2e5079" stroke-width="0.9"/>
<circle cx="171.30" cy="129.80" r="1.25" fill="none" stroke="#2e5079" stroke-width="0.9"/>
<circle cx="175.30" cy="129.80" r="1.25" fill="none" stroke="#2e5079" stroke-width="0.9"/>
<circle cx="179.50" cy="129.30" r="1.25" fill="none" stroke="#2e5079" stroke-width="0.9"/>
<circle cx="167.50" cy="137.00" r="1.25" fill="none" stroke="#2e5079" stroke-width="0.9"/>
<circle cx="171.30" cy="137.00" r="1.25" fill="none" stroke="#2e5079" stroke-width="0.9"/>
<circle cx="175.30" cy="138.40" r="1.25" fill="none" stroke="#2e5079" stroke-width="0.9"/>
<circle cx="162.70" cy="144.00" r="1.25" fill="none" stroke="#2e5079" stroke-width="0.9"/>
<circle cx="165.70" cy="145.30" r="1.25" fill="none" stroke="#2e5079" stroke-width="0.9"/>
<circle cx="168.60" cy="146.10" r="1.25" fill="none" stroke="#2e5079" stroke-width="0.9"/>
<circle cx="174.20" cy="145.30" r="1.25" fill="none" stroke="#2e5079" stroke-width="0.9"/>
<circle cx="177.40" cy="144.50" r="1.25" fill="none" stroke="#2e5079" stroke-width="0.9"/>
<circle cx="180.60" cy="143.20" r="1.25" fill="none" stroke="#2e5079" stroke-width="0.9"/>
<circle cx="167.50" cy="149.00" r="1.25" fill="none" stroke="#2e5079" stroke-width="0.9"/>
<circle cx="171.30" cy="147.50" r="1.25" fill="none" stroke="#2e5079" stroke-width="0.9"/>
<circle cx="163.30" cy="153.20" r="1.25" fill="none" stroke="#2e5079" stroke-width="0.9"/>
<circle cx="167.50" cy="154.10" r="1.25" fill="none" stroke="#2e5079" stroke-width="0.9"/>
<circle cx="171.30" cy="152.00" r="1.25" fill="none" stroke="#2e5079" stroke-width="0.9"/>
<circle cx="175.50" cy="154.30" r="1.25" fill="none" stroke="#2e5079" stroke-width="0.9"/>
<circle cx="177.40" cy="150.40" r="1.25" fill="none" stroke="#2e5079" stroke-width="0.9"/>
<circle cx="179.80" cy="152.80" r="1.25" fill="none" stroke="#2e5079" stroke-width="0.9"/>
<circle cx="171.30" cy="156.80" r="1.25" fill="none" stroke="#2e5079" stroke-width="0.9"/>
<circle cx="173.00" cy="156.50" r="1.25" fill="none" stroke="#2e5079" stroke-width="0.9"/>
<circle cx="162.80" cy="159.70" r="1.15" fill="none" stroke="#2e5079" stroke-width="0.9"/>
<circle cx="165.10" cy="159.70" r="1.15" fill="none" stroke="#2e5079" stroke-width="0.9"/>
<circle cx="167.40" cy="159.70" r="1.15" fill="none" stroke="#2e5079" stroke-width="0.9"/>
<circle cx="169.70" cy="159.70" r="1.15" fill="none" stroke="#2e5079" stroke-width="0.9"/>
<circle cx="172.00" cy="159.70" r="1.15" fill="none" stroke="#2e5079" stroke-width="0.9"/>
<circle cx="174.30" cy="159.70" r="1.15" fill="none" stroke="#2e5079" stroke-width="0.9"/>
<circle cx="176.60" cy="159.70" r="1.15" fill="none" stroke="#2e5079" stroke-width="0.9"/>
<circle cx="178.90" cy="159.70" r="1.15" fill="none" stroke="#2e5079" stroke-width="0.9"/>
<circle cx="181.20" cy="159.70" r="1.15" fill="none" stroke="#2e5079" stroke-width="0.9"/>
<circle cx="165.50" cy="158.00" r="1.15" fill="none" stroke="#2e5079" stroke-width="0.9"/>
<circle cx="167.80" cy="158.00" r="1.15" fill="none" stroke="#2e5079" stroke-width="0.9"/>
<circle cx="170.10" cy="158.00" r="1.15" fill="none" stroke="#2e5079" stroke-width="0.9"/>
<circle cx="172.40" cy="158.00" r="1.15" fill="none" stroke="#2e5079" stroke-width="0.9"/>
<circle cx="174.70" cy="158.00" r="1.15" fill="none" stroke="#2e5079" stroke-width="0.9"/>
<circle cx="177.00" cy="158.00" r="1.15" fill="none" stroke="#2e5079" stroke-width="0.9"/>
<circle cx="168.50" cy="156.30" r="1.15" fill="none" stroke="#2e5079" stroke-width="0.9"/>
<circle cx="171.50" cy="156.30" r="1.15" fill="none" stroke="#2e5079" stroke-width="0.9"/>
<circle cx="174.50" cy="156.30" r="1.15" fill="none" stroke="#2e5079" stroke-width="0.9"/>
<circle cx="193.80" cy="159.90" r="1.0" fill="none" stroke="#b0102e" stroke-width="0.85"/>
<circle cx="196.75" cy="159.90" r="1.0" fill="none" stroke="#b0102e" stroke-width="0.85"/>
<circle cx="199.70" cy="159.90" r="1.0" fill="none" stroke="#b0102e" stroke-width="0.85"/>
<circle cx="202.65" cy="159.90" r="1.0" fill="none" stroke="#b0102e" stroke-width="0.85"/>
<circle cx="205.60" cy="159.90" r="1.0" fill="none" stroke="#b0102e" stroke-width="0.85"/>
<circle cx="208.55" cy="159.90" r="1.0" fill="none" stroke="#b0102e" stroke-width="0.85"/>
<circle cx="211.50" cy="159.90" r="1.0" fill="none" stroke="#b0102e" stroke-width="0.85"/>
<circle cx="294.50" cy="72.50" r="1.25" fill="none" stroke="#2e5079" stroke-width="0.9"/>
<circle cx="294.50" cy="84.70" r="1.25" fill="none" stroke="#2e5079" stroke-width="0.9"/>
<circle cx="292.40" cy="90.40" r="1.25" fill="none" stroke="#2e5079" stroke-width="0.9"/>
<circle cx="297.00" cy="89.80" r="1.25" fill="none" stroke="#2e5079" stroke-width="0.9"/>
<circle cx="294.50" cy="110.40" r="1.25" fill="none" stroke="#2e5079" stroke-width="0.9"/>
<circle cx="296.70" cy="116.40" r="1.25" fill="none" stroke="#2e5079" stroke-width="0.9"/>
<circle cx="290.60" cy="119.40" r="1.25" fill="none" stroke="#2e5079" stroke-width="0.9"/>
<circle cx="292.40" cy="121.00" r="1.25" fill="none" stroke="#2e5079" stroke-width="0.9"/>
<circle cx="290.50" cy="119.30" r="1.25" fill="none" stroke="#2e5079" stroke-width="0.9"/>
<circle cx="292.70" cy="121.20" r="1.25" fill="none" stroke="#2e5079" stroke-width="0.9"/>
<circle cx="287.00" cy="125.20" r="1.25" fill="none" stroke="#2e5079" stroke-width="0.9"/>
<circle cx="290.70" cy="126.10" r="1.25" fill="none" stroke="#2e5079" stroke-width="0.9"/>
<circle cx="296.60" cy="124.20" r="1.25" fill="none" stroke="#2e5079" stroke-width="0.9"/>
<circle cx="298.50" cy="126.10" r="1.25" fill="none" stroke="#2e5079" stroke-width="0.9"/>
<circle cx="302.60" cy="125.20" r="1.25" fill="none" stroke="#2e5079" stroke-width="0.9"/>
<circle cx="289.20" cy="140.30" r="1.25" fill="none" stroke="#2e5079" stroke-width="0.9"/>
<circle cx="296.60" cy="141.10" r="1.25" fill="none" stroke="#2e5079" stroke-width="0.9"/>
<circle cx="300.70" cy="139.30" r="1.25" fill="none" stroke="#2e5079" stroke-width="0.9"/>
<circle cx="292.70" cy="142.70" r="1.25" fill="none" stroke="#2e5079" stroke-width="0.9"/>
<circle cx="287.00" cy="144.20" r="1.25" fill="none" stroke="#2e5079" stroke-width="0.9"/>
<circle cx="302.60" cy="144.20" r="1.25" fill="none" stroke="#2e5079" stroke-width="0.9"/>
<circle cx="288.72" cy="158.43" r="1.2" fill="none" stroke="#2d5c8f" stroke-width="0.85"/>
<circle cx="291.71" cy="158.47" r="1.2" fill="none" stroke="#2d5c8f" stroke-width="0.85"/>
<circle cx="294.79" cy="158.10" r="1.2" fill="none" stroke="#2d5c8f" stroke-width="0.85"/>
<circle cx="297.26" cy="158.64" r="1.2" fill="none" stroke="#2d5c8f" stroke-width="0.85"/>
<circle cx="300.33" cy="158.21" r="1.2" fill="none" stroke="#2d5c8f" stroke-width="0.85"/>
<circle cx="287.80" cy="155.98" r="1.2" fill="none" stroke="#2d5c8f" stroke-width="0.85"/>
<circle cx="290.59" cy="155.98" r="1.2" fill="none" stroke="#2d5c8f" stroke-width="0.85"/>
<circle cx="293.35" cy="155.76" r="1.2" fill="none" stroke="#2d5c8f" stroke-width="0.85"/>
<circle cx="296.24" cy="156.26" r="1.2" fill="none" stroke="#2d5c8f" stroke-width="0.85"/>
<circle cx="299.07" cy="156.17" r="1.2" fill="none" stroke="#2d5c8f" stroke-width="0.85"/>
<circle cx="302.07" cy="155.69" r="1.2" fill="none" stroke="#2d5c8f" stroke-width="0.85"/>
<circle cx="291.98" cy="153.66" r="1.2" fill="none" stroke="#2d5c8f" stroke-width="0.85"/>
<circle cx="294.56" cy="153.27" r="1.2" fill="none" stroke="#2d5c8f" stroke-width="0.85"/>
<circle cx="297.86" cy="153.58" r="1.2" fill="none" stroke="#2d5c8f" stroke-width="0.85"/>
<circle cx="293.40" cy="151.47" r="1.2" fill="none" stroke="#2d5c8f" stroke-width="0.85"/>
<circle cx="296.30" cy="151.49" r="1.2" fill="none" stroke="#2d5c8f" stroke-width="0.85"/>
<circle cx="288.83" cy="149.01" r="1.2" fill="none" stroke="#2d5c8f" stroke-width="0.85"/>
<circle cx="291.76" cy="149.10" r="1.2" fill="none" stroke="#2d5c8f" stroke-width="0.85"/>
<circle cx="294.97" cy="148.52" r="1.2" fill="none" stroke="#2d5c8f" stroke-width="0.85"/>
<circle cx="297.35" cy="148.60" r="1.2" fill="none" stroke="#2d5c8f" stroke-width="0.85"/>
<circle cx="300.83" cy="148.76" r="1.2" fill="none" stroke="#2d5c8f" stroke-width="0.85"/>
<circle cx="287.50" cy="152.60" r="1.25" fill="none" stroke="#2e5079" stroke-width="0.9"/>
<circle cx="291.50" cy="153.60" r="1.25" fill="none" stroke="#2e5079" stroke-width="0.9"/>
<circle cx="301.50" cy="152.40" r="1.25" fill="none" stroke="#2e5079" stroke-width="0.9"/>
<circle cx="326.50" cy="118.50" r="1.1" fill="none" stroke="#a8173f" stroke-width="0.8"/>
<circle cx="318.70" cy="156.00" r="1.1" fill="none" stroke="#a8173f" stroke-width="0.8"/>
<circle cx="322.50" cy="157.20" r="1.1" fill="none" stroke="#a8173f" stroke-width="0.8"/>
<circle cx="326.20" cy="159.20" r="1.1" fill="none" stroke="#a8173f" stroke-width="0.8"/>
<circle cx="330.20" cy="158.10" r="1.1" fill="none" stroke="#a8173f" stroke-width="0.8"/>
<circle cx="334.40" cy="156.20" r="1.1" fill="none" stroke="#a8173f" stroke-width="0.8"/>
<circle cx="326.20" cy="152.50" r="1.1" fill="none" stroke="#a8173f" stroke-width="0.8"/>
<circle cx="414.50" cy="75.40" r="1.25" fill="none" stroke="#2e5079" stroke-width="0.9"/>
<circle cx="414.50" cy="109.50" r="1.25" fill="none" stroke="#2e5079" stroke-width="0.9"/>
<circle cx="411.80" cy="135.20" r="1.25" fill="none" stroke="#2e5079" stroke-width="0.9"/>
<circle cx="413.60" cy="134.90" r="1.25" fill="none" stroke="#2e5079" stroke-width="0.9"/>
<circle cx="417.30" cy="134.90" r="1.25" fill="none" stroke="#2e5079" stroke-width="0.9"/>
<circle cx="418.50" cy="137.50" r="1.25" fill="none" stroke="#2e5079" stroke-width="0.9"/>
<circle cx="414.40" cy="140.10" r="1.25" fill="none" stroke="#2e5079" stroke-width="0.9"/>
<path d="M405,140.6 L408.6,139.6 L411.5,140.8 L414.6,139.8 L417.6,140.8 L420.6,139.6 L424.3,140.6 L425,143 L425,146.5 L424.2,149.6 L421.6,151.4 L419.6,152.6 L409.6,152.6 L407.6,151.4 L405,149.6 L404.2,146.5 L404.2,143 Z" fill="#285c96" fill-opacity="0.6"/>
<circle cx="410.23" cy="152.66" r="1.2" fill="none" stroke="#1d4f86" stroke-width="0.85"/>
<circle cx="412.47" cy="152.71" r="1.2" fill="none" stroke="#1d4f86" stroke-width="0.85"/>
<circle cx="414.66" cy="152.71" r="1.2" fill="none" stroke="#1d4f86" stroke-width="0.85"/>
<circle cx="416.68" cy="152.59" r="1.2" fill="none" stroke="#1d4f86" stroke-width="0.85"/>
<circle cx="419.11" cy="152.64" r="1.2" fill="none" stroke="#1d4f86" stroke-width="0.85"/>
<circle cx="409.20" cy="150.80" r="1.2" fill="none" stroke="#1d4f86" stroke-width="0.85"/>
<circle cx="411.29" cy="150.84" r="1.2" fill="none" stroke="#1d4f86" stroke-width="0.85"/>
<circle cx="413.51" cy="150.92" r="1.2" fill="none" stroke="#1d4f86" stroke-width="0.85"/>
<circle cx="415.58" cy="150.83" r="1.2" fill="none" stroke="#1d4f86" stroke-width="0.85"/>
<circle cx="417.84" cy="151.00" r="1.2" fill="none" stroke="#1d4f86" stroke-width="0.85"/>
<circle cx="420.17" cy="150.81" r="1.2" fill="none" stroke="#1d4f86" stroke-width="0.85"/>
<circle cx="405.87" cy="149.11" r="1.2" fill="none" stroke="#1d4f86" stroke-width="0.85"/>
<circle cx="408.03" cy="149.11" r="1.2" fill="none" stroke="#1d4f86" stroke-width="0.85"/>
<circle cx="410.08" cy="149.29" r="1.2" fill="none" stroke="#1d4f86" stroke-width="0.85"/>
<circle cx="412.33" cy="149.13" r="1.2" fill="none" stroke="#1d4f86" stroke-width="0.85"/>
<circle cx="414.72" cy="149.29" r="1.2" fill="none" stroke="#1d4f86" stroke-width="0.85"/>
<circle cx="416.75" cy="149.32" r="1.2" fill="none" stroke="#1d4f86" stroke-width="0.85"/>
<circle cx="419.01" cy="149.24" r="1.2" fill="none" stroke="#1d4f86" stroke-width="0.85"/>
<circle cx="421.13" cy="149.31" r="1.2" fill="none" stroke="#1d4f86" stroke-width="0.85"/>
<circle cx="423.45" cy="149.32" r="1.2" fill="none" stroke="#1d4f86" stroke-width="0.85"/>
<circle cx="407.00" cy="147.45" r="1.2" fill="none" stroke="#1d4f86" stroke-width="0.85"/>
<circle cx="409.07" cy="147.42" r="1.2" fill="none" stroke="#1d4f86" stroke-width="0.85"/>
<circle cx="411.21" cy="147.39" r="1.2" fill="none" stroke="#1d4f86" stroke-width="0.85"/>
<circle cx="413.45" cy="147.53" r="1.2" fill="none" stroke="#1d4f86" stroke-width="0.85"/>
<circle cx="415.58" cy="147.54" r="1.2" fill="none" stroke="#1d4f86" stroke-width="0.85"/>
<circle cx="417.86" cy="147.45" r="1.2" fill="none" stroke="#1d4f86" stroke-width="0.85"/>
<circle cx="420.18" cy="147.50" r="1.2" fill="none" stroke="#1d4f86" stroke-width="0.85"/>
<circle cx="422.25" cy="147.50" r="1.2" fill="none" stroke="#1d4f86" stroke-width="0.85"/>
<circle cx="405.85" cy="145.69" r="1.2" fill="none" stroke="#1d4f86" stroke-width="0.85"/>
<circle cx="408.12" cy="145.68" r="1.2" fill="none" stroke="#1d4f86" stroke-width="0.85"/>
<circle cx="410.26" cy="145.89" r="1.2" fill="none" stroke="#1d4f86" stroke-width="0.85"/>
<circle cx="412.28" cy="145.87" r="1.2" fill="none" stroke="#1d4f86" stroke-width="0.85"/>
<circle cx="414.57" cy="145.82" r="1.2" fill="none" stroke="#1d4f86" stroke-width="0.85"/>
<circle cx="416.68" cy="145.69" r="1.2" fill="none" stroke="#1d4f86" stroke-width="0.85"/>
<circle cx="418.92" cy="145.91" r="1.2" fill="none" stroke="#1d4f86" stroke-width="0.85"/>
<circle cx="421.12" cy="145.86" r="1.2" fill="none" stroke="#1d4f86" stroke-width="0.85"/>
<circle cx="423.51" cy="145.91" r="1.2" fill="none" stroke="#1d4f86" stroke-width="0.85"/>
<circle cx="406.86" cy="144.06" r="1.2" fill="none" stroke="#1d4f86" stroke-width="0.85"/>
<circle cx="409.11" cy="144.17" r="1.2" fill="none" stroke="#1d4f86" stroke-width="0.85"/>
<circle cx="411.20" cy="144.16" r="1.2" fill="none" stroke="#1d4f86" stroke-width="0.85"/>
<circle cx="413.57" cy="144.19" r="1.2" fill="none" stroke="#1d4f86" stroke-width="0.85"/>
<circle cx="415.58" cy="144.21" r="1.2" fill="none" stroke="#1d4f86" stroke-width="0.85"/>
<circle cx="417.80" cy="144.06" r="1.2" fill="none" stroke="#1d4f86" stroke-width="0.85"/>
<circle cx="420.13" cy="144.20" r="1.2" fill="none" stroke="#1d4f86" stroke-width="0.85"/>
<circle cx="422.26" cy="144.21" r="1.2" fill="none" stroke="#1d4f86" stroke-width="0.85"/>
<circle cx="405.81" cy="142.35" r="1.2" fill="none" stroke="#1d4f86" stroke-width="0.85"/>
<circle cx="407.95" cy="142.32" r="1.2" fill="none" stroke="#1d4f86" stroke-width="0.85"/>
<circle cx="410.09" cy="142.31" r="1.2" fill="none" stroke="#1d4f86" stroke-width="0.85"/>
<circle cx="412.45" cy="142.52" r="1.2" fill="none" stroke="#1d4f86" stroke-width="0.85"/>
<circle cx="414.52" cy="142.29" r="1.2" fill="none" stroke="#1d4f86" stroke-width="0.85"/>
<circle cx="416.92" cy="142.41" r="1.2" fill="none" stroke="#1d4f86" stroke-width="0.85"/>
<circle cx="418.98" cy="142.33" r="1.2" fill="none" stroke="#1d4f86" stroke-width="0.85"/>
<circle cx="421.22" cy="142.48" r="1.2" fill="none" stroke="#1d4f86" stroke-width="0.85"/>
<circle cx="423.39" cy="142.38" r="1.2" fill="none" stroke="#1d4f86" stroke-width="0.85"/>
<circle cx="406.79" cy="140.80" r="1.2" fill="none" stroke="#1d4f86" stroke-width="0.85"/>
<circle cx="408.98" cy="140.70" r="1.2" fill="none" stroke="#1d4f86" stroke-width="0.85"/>
<circle cx="411.38" cy="140.61" r="1.2" fill="none" stroke="#1d4f86" stroke-width="0.85"/>
<circle cx="413.56" cy="140.81" r="1.2" fill="none" stroke="#1d4f86" stroke-width="0.85"/>
<circle cx="415.73" cy="140.77" r="1.2" fill="none" stroke="#1d4f86" stroke-width="0.85"/>
<circle cx="417.80" cy="140.68" r="1.2" fill="none" stroke="#1d4f86" stroke-width="0.85"/>
<circle cx="420.01" cy="140.79" r="1.2" fill="none" stroke="#1d4f86" stroke-width="0.85"/>
<circle cx="422.25" cy="140.69" r="1.2" fill="none" stroke="#1d4f86" stroke-width="0.85"/>
<line x1="406" y1="145.3" x2="423" y2="145.3" stroke="#8fb0d8" stroke-width="0.6"/>
<line x1="407" y1="148.2" x2="422" y2="148.2" stroke="#7fa3cf" stroke-width="0.5"/>
<line x1="404.3" y1="144.3" x2="424.9" y2="144.3" stroke="#1d3550" stroke-width="0.9"/>
<circle cx="445.80" cy="140.70" r="1.0" fill="none" stroke="#a8173f" stroke-width="0.8"/>
<circle cx="437.00" cy="146.90" r="1.0" fill="none" stroke="#a8173f" stroke-width="0.8"/>
<circle cx="440.00" cy="146.90" r="1.0" fill="none" stroke="#a8173f" stroke-width="0.8"/>
<circle cx="443.00" cy="147.30" r="1.0" fill="none" stroke="#a8173f" stroke-width="0.8"/>
<circle cx="446.00" cy="146.90" r="1.0" fill="none" stroke="#a8173f" stroke-width="0.8"/>
<circle cx="449.00" cy="147.30" r="1.0" fill="none" stroke="#a8173f" stroke-width="0.8"/>
<circle cx="452.00" cy="146.90" r="1.0" fill="none" stroke="#a8173f" stroke-width="0.8"/>
<circle cx="455.30" cy="146.90" r="1.0" fill="none" stroke="#a8173f" stroke-width="0.8"/>
<circle cx="443.00" cy="148.80" r="1.0" fill="none" stroke="#a8173f" stroke-width="0.8"/>
<circle cx="446.00" cy="149.20" r="1.0" fill="none" stroke="#a8173f" stroke-width="0.8"/>
<circle cx="449.00" cy="148.80" r="1.0" fill="none" stroke="#a8173f" stroke-width="0.8"/>
<circle cx="446.20" cy="150.80" r="1.0" fill="none" stroke="#a8173f" stroke-width="0.8"/>
<circle cx="55.30" cy="252.10" r="1.25" fill="none" stroke="#2e5079" stroke-width="0.9"/>
<circle cx="55.30" cy="266.00" r="1.25" fill="none" stroke="#2e5079" stroke-width="0.9"/>
<circle cx="53.50" cy="276.40" r="1.25" fill="none" stroke="#2e5079" stroke-width="0.9"/>
<circle cx="57.20" cy="274.90" r="1.25" fill="none" stroke="#2e5079" stroke-width="0.9"/>
<circle cx="53.50" cy="310.90" r="1.25" fill="none" stroke="#2e5079" stroke-width="0.9"/>
<circle cx="57.20" cy="312.00" r="1.25" fill="none" stroke="#2e5079" stroke-width="0.9"/>
<circle cx="52.20" cy="315.70" r="1.25" fill="none" stroke="#2e5079" stroke-width="0.9"/>
<circle cx="58.70" cy="316.10" r="1.25" fill="none" stroke="#2e5079" stroke-width="0.9"/>
<circle cx="54.00" cy="321.30" r="1.25" fill="none" stroke="#2e5079" stroke-width="0.9"/>
<circle cx="57.20" cy="322.70" r="1.25" fill="none" stroke="#2e5079" stroke-width="0.9"/>
<circle cx="50.30" cy="325.10" r="1.25" fill="none" stroke="#2e5079" stroke-width="0.9"/>
<circle cx="60.60" cy="325.10" r="1.25" fill="none" stroke="#2e5079" stroke-width="0.9"/>
<circle cx="54.00" cy="327.30" r="1.25" fill="none" stroke="#2e5079" stroke-width="0.9"/>
<circle cx="57.20" cy="327.30" r="1.25" fill="none" stroke="#2e5079" stroke-width="0.9"/>
<circle cx="52.20" cy="331.50" r="1.25" fill="none" stroke="#2e5079" stroke-width="0.9"/>
<circle cx="58.70" cy="331.10" r="1.25" fill="none" stroke="#2e5079" stroke-width="0.9"/>
<circle cx="55.30" cy="334.40" r="1.25" fill="none" stroke="#2e5079" stroke-width="0.9"/>
<circle cx="55.30" cy="338.60" r="1.25" fill="none" stroke="#2e5079" stroke-width="0.9"/>
<circle cx="53.10" cy="341.90" r="1.25" fill="none" stroke="#2e5079" stroke-width="0.9"/>
<circle cx="57.20" cy="342.30" r="1.25" fill="none" stroke="#2e5079" stroke-width="0.9"/>
<circle cx="54.00" cy="347.00" r="1.25" fill="none" stroke="#2e5079" stroke-width="0.9"/>
<circle cx="57.20" cy="347.00" r="1.25" fill="none" stroke="#2e5079" stroke-width="0.9"/>
<circle cx="85.50" cy="237.80" r="1.15" fill="#a8173f"/>
<circle cx="89.00" cy="239.00" r="1.15" fill="#a8173f"/>
<circle cx="87.50" cy="243.20" r="1.15" fill="#a8173f"/>
<circle cx="87.50" cy="249.50" r="1.15" fill="#a8173f"/>
<circle cx="89.00" cy="254.80" r="1.15" fill="#a8173f"/>
<circle cx="87.60" cy="272.40" r="1.15" fill="#a8173f"/>
<circle cx="87.60" cy="287.10" r="1.15" fill="#a8173f"/>
<circle cx="87.60" cy="290.50" r="1.15" fill="#a8173f"/>
<circle cx="84.20" cy="292.60" r="1.15" fill="#a8173f"/>
<circle cx="91.00" cy="294.80" r="1.15" fill="#a8173f"/>
<circle cx="87.60" cy="295.60" r="1.15" fill="#a8173f"/>
<circle cx="87.60" cy="303.20" r="1.15" fill="#a8173f"/>
<circle cx="87.60" cy="313.40" r="1.15" fill="#a8173f"/>
<circle cx="85.90" cy="323.50" r="1.15" fill="#a8173f"/>
<circle cx="89.30" cy="323.50" r="1.15" fill="#a8173f"/>
<circle cx="88.90" cy="332.00" r="1.15" fill="#a8173f"/>
<circle cx="85.90" cy="333.70" r="1.15" fill="#a8173f"/>
<circle cx="87.60" cy="339.60" r="1.15" fill="#a8173f"/>
<circle cx="88.90" cy="342.10" r="1.15" fill="#a8173f"/>
<circle cx="85.90" cy="343.80" r="1.15" fill="#a8173f"/>
<path d="M159.5,347.2 Q160,344.2 166,343.8 Q170.5,342.8 175,343.8 Q181,344.2 181.8,347.2 Z" fill="#24527f"/>
<circle cx="161.50" cy="346.00" r="1.0" fill="none" stroke="#1f4d7e" stroke-width="0.8"/>
<circle cx="163.20" cy="346.00" r="1.0" fill="none" stroke="#1f4d7e" stroke-width="0.8"/>
<circle cx="164.90" cy="346.00" r="1.0" fill="none" stroke="#1f4d7e" stroke-width="0.8"/>
<circle cx="166.60" cy="346.00" r="1.0" fill="none" stroke="#1f4d7e" stroke-width="0.8"/>
<circle cx="168.30" cy="345.30" r="1.0" fill="none" stroke="#1f4d7e" stroke-width="0.8"/>
<circle cx="170.00" cy="345.30" r="1.0" fill="none" stroke="#1f4d7e" stroke-width="0.8"/>
<circle cx="171.70" cy="345.30" r="1.0" fill="none" stroke="#1f4d7e" stroke-width="0.8"/>
<circle cx="173.40" cy="345.30" r="1.0" fill="none" stroke="#1f4d7e" stroke-width="0.8"/>
<circle cx="175.10" cy="345.30" r="1.0" fill="none" stroke="#1f4d7e" stroke-width="0.8"/>
<circle cx="176.80" cy="346.00" r="1.0" fill="none" stroke="#1f4d7e" stroke-width="0.8"/>
<circle cx="178.50" cy="346.00" r="1.0" fill="none" stroke="#1f4d7e" stroke-width="0.8"/>
<circle cx="180.20" cy="346.00" r="1.0" fill="none" stroke="#1f4d7e" stroke-width="0.8"/>
<circle cx="172.40" cy="342.40" r="1.0" fill="none" stroke="#2e5079" stroke-width="0.9"/>
<circle cx="193.50" cy="346.00" r="0.95" fill="#a8173f"/>
<circle cx="195.80" cy="346.00" r="0.95" fill="#a8173f"/>
<circle cx="198.10" cy="346.00" r="0.95" fill="#a8173f"/>
<circle cx="200.40" cy="345.50" r="0.95" fill="#a8173f"/>
<circle cx="202.70" cy="345.50" r="0.95" fill="#a8173f"/>
<circle cx="205.00" cy="345.50" r="0.95" fill="#a8173f"/>
<circle cx="207.30" cy="345.50" r="0.95" fill="#a8173f"/>
<circle cx="209.60" cy="346.00" r="0.95" fill="#a8173f"/>
<circle cx="211.90" cy="346.00" r="0.95" fill="#a8173f"/>
<circle cx="202.40" cy="240.00" r="1.15" fill="#a8173f"/>
<circle cx="202.40" cy="277.70" r="1.15" fill="#a8173f"/>
<circle cx="202.40" cy="289.20" r="1.15" fill="#a8173f"/>
<circle cx="200.90" cy="331.20" r="1.15" fill="#a8173f"/>
<circle cx="204.00" cy="332.40" r="1.15" fill="#a8173f"/>
<circle cx="292.50" cy="329.10" r="1.25" fill="none" stroke="#2e5079" stroke-width="0.9"/>
<circle cx="285.98" cy="343.83" r="1.2" fill="none" stroke="#2d5a8c" stroke-width="0.85"/>
<circle cx="288.61" cy="343.78" r="1.2" fill="none" stroke="#2d5a8c" stroke-width="0.85"/>
<circle cx="290.80" cy="343.84" r="1.2" fill="none" stroke="#2d5a8c" stroke-width="0.85"/>
<circle cx="293.04" cy="343.81" r="1.2" fill="none" stroke="#2d5a8c" stroke-width="0.85"/>
<circle cx="295.66" cy="343.95" r="1.2" fill="none" stroke="#2d5a8c" stroke-width="0.85"/>
<circle cx="297.80" cy="343.70" r="1.2" fill="none" stroke="#2d5a8c" stroke-width="0.85"/>
<circle cx="300.20" cy="343.95" r="1.2" fill="none" stroke="#2d5a8c" stroke-width="0.85"/>
<circle cx="284.90" cy="341.37" r="1.2" fill="none" stroke="#2d5a8c" stroke-width="0.85"/>
<circle cx="287.44" cy="341.83" r="1.2" fill="none" stroke="#2d5a8c" stroke-width="0.85"/>
<circle cx="289.68" cy="341.66" r="1.2" fill="none" stroke="#2d5a8c" stroke-width="0.85"/>
<circle cx="291.83" cy="341.36" r="1.2" fill="none" stroke="#2d5a8c" stroke-width="0.85"/>
<circle cx="294.41" cy="341.38" r="1.2" fill="none" stroke="#2d5a8c" stroke-width="0.85"/>
<circle cx="296.65" cy="341.47" r="1.2" fill="none" stroke="#2d5a8c" stroke-width="0.85"/>
<circle cx="298.97" cy="341.58" r="1.2" fill="none" stroke="#2d5a8c" stroke-width="0.85"/>
<circle cx="301.57" cy="341.77" r="1.2" fill="none" stroke="#2d5a8c" stroke-width="0.85"/>
<circle cx="292.30" cy="333.80" r="1.25" fill="none" stroke="#2e5079" stroke-width="0.9"/>
<circle cx="324.60" cy="244.20" r="1.15" fill="#a8173f"/>
<circle cx="324.80" cy="306.20" r="1.15" fill="#a8173f"/>
<circle cx="324.80" cy="308.90" r="1.15" fill="#a8173f"/>
<circle cx="324.80" cy="312.30" r="1.15" fill="#a8173f"/>
<circle cx="324.80" cy="315.70" r="1.15" fill="#a8173f"/>
<circle cx="317.80" cy="342.20" r="1.15" fill="#a8173f"/>
<circle cx="321.40" cy="344.30" r="1.15" fill="#a8173f"/>
<circle cx="324.80" cy="345.30" r="1.15" fill="#a8173f"/>
<circle cx="328.20" cy="344.30" r="1.15" fill="#a8173f"/>
<circle cx="331.50" cy="342.60" r="1.15" fill="#a8173f"/>
</svg>
</body></html>
